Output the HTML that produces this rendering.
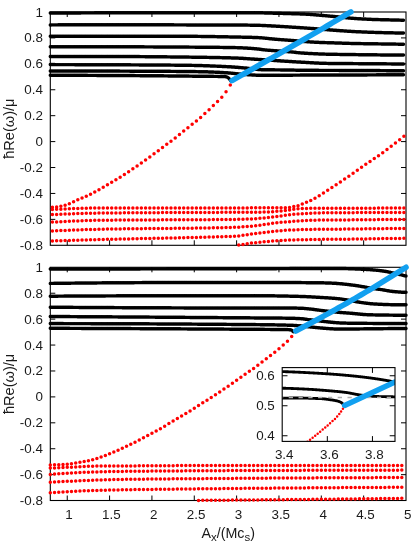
<!DOCTYPE html><html><head><meta charset="utf-8"><style>html,body{margin:0;padding:0;background:#fff}</style></head><body><svg width="415" height="545" viewBox="0 0 415 545" style="display:block;font-family:'Liberation Sans',sans-serif">
<rect width="415" height="545" fill="#fff"/>
<path d="M67.24 245.3v-5M67.24 12.0v5M109.58 245.3v-5M109.58 12.0v5M151.93 245.3v-5M151.93 12.0v5M194.27 245.3v-5M194.27 12.0v5M236.62 245.3v-5M236.62 12.0v5M278.96 245.3v-5M278.96 12.0v5M321.31 245.3v-5M321.31 12.0v5M363.65 245.3v-5M363.65 12.0v5M50.3 37.92h5M406.0 37.92h-5M50.3 63.84h5M406.0 63.84h-5M50.3 89.76h5M406.0 89.76h-5M50.3 115.68h5M406.0 115.68h-5M50.3 141.60h5M406.0 141.60h-5M50.3 167.52h5M406.0 167.52h-5M50.3 193.44h5M406.0 193.44h-5M50.3 219.36h5M406.0 219.36h-5" stroke="#000" stroke-width="1" fill="none"/>
<rect x="50.3" y="12.0" width="355.7" height="233.3" fill="none" stroke="#000" stroke-width="1.1"/>
<path d="M52.40 209.49h0M56.63 209.31h0M60.87 209.13h0M65.11 208.94h0M69.34 208.75h0M73.58 208.58h0M77.81 208.41h0M82.05 208.27h0M86.28 208.15h0M90.52 208.07h0M94.75 208.01h0M98.98 208.00h0M103.22 208.00h0M107.45 208.00h0M111.69 208.00h0M115.92 208.00h0M120.16 208.00h0M124.39 208.00h0M128.63 208.00h0M132.87 208.00h0M137.10 208.00h0M141.34 208.00h0M145.57 208.00h0M149.81 208.00h0M154.04 208.00h0M158.28 208.00h0M162.51 208.00h0M166.75 208.00h0M170.98 208.00h0M175.22 208.00h0M179.45 208.00h0M183.69 208.00h0M187.92 208.00h0M192.16 208.00h0M196.39 208.00h0M200.63 208.00h0M204.86 208.00h0M209.10 208.00h0M213.33 208.00h0M217.57 208.00h0M221.80 208.00h0M226.04 208.00h0M230.27 208.00h0M234.51 208.00h0M238.74 207.99h0M242.98 207.95h0M247.21 207.90h0M251.45 207.85h0M255.68 207.82h0M259.92 207.80h0M264.15 207.80h0M268.39 207.80h0M272.62 207.80h0M276.86 207.80h0M281.09 207.80h0M285.33 207.75h0M289.56 207.44h0M293.80 206.58h0M298.03 205.63h0M302.27 204.04h0M306.50 202.30h0M310.74 200.44h0M314.97 198.36h0M319.21 195.75h0M323.44 193.08h0M327.68 190.36h0M331.91 187.59h0M336.15 184.78h0M340.38 181.95h0M344.62 179.08h0M348.85 176.15h0M353.09 173.20h0M357.32 170.23h0M361.56 167.27h0M365.79 164.35h0M370.03 161.47h0M374.26 158.58h0M378.50 155.66h0M382.73 152.64h0M386.97 149.52h0M391.20 146.31h0M395.44 143.02h0M399.67 139.64h0M403.91 136.13h0" fill="none" stroke="#ff0000" stroke-width="3.5" stroke-linecap="round"/>
<path d="M52.40 214.59h0M56.63 214.42h0M60.87 214.25h0M65.11 214.08h0M69.34 213.91h0M73.58 213.74h0M77.81 213.59h0M82.05 213.45h0M86.28 213.33h0M90.52 213.23h0M94.75 213.14h0M98.98 213.09h0M103.22 213.04h0M107.45 213.00h0M111.69 212.96h0M115.92 212.92h0M120.16 212.89h0M124.39 212.85h0M128.63 212.82h0M132.87 212.79h0M137.10 212.76h0M141.34 212.73h0M145.57 212.71h0M149.81 212.69h0M154.04 212.66h0M158.28 212.64h0M162.51 212.62h0M166.75 212.60h0M170.98 212.58h0M175.22 212.56h0M179.45 212.55h0M183.69 212.53h0M187.92 212.51h0M192.16 212.49h0M196.39 212.48h0M200.63 212.46h0M204.86 212.44h0M209.10 212.42h0M213.33 212.41h0M217.57 212.39h0M221.80 212.37h0M226.04 212.35h0M230.27 212.33h0M234.51 212.30h0M238.74 212.28h0M242.98 212.25h0M247.21 212.22h0M251.45 212.20h0M255.68 212.20h0M259.92 212.20h0M264.15 212.12h0M268.39 211.92h0M272.62 211.65h0M276.86 211.37h0M281.09 210.99h0M285.33 210.53h0M289.56 209.96h0M293.80 209.31h0M298.03 208.81h0M302.27 208.50h0M306.50 208.38h0M310.74 208.34h0M314.97 208.31h0M319.21 208.30h0M323.44 208.30h0M327.68 208.30h0M331.91 208.30h0M336.15 208.30h0M340.38 208.29h0M344.62 208.28h0M348.85 208.27h0M353.09 208.25h0M357.32 208.23h0M361.56 208.21h0M365.79 208.18h0M370.03 208.16h0M374.26 208.14h0M378.50 208.12h0M382.73 208.11h0M386.97 208.10h0M391.20 208.10h0M395.44 208.10h0M399.67 208.10h0M403.91 208.10h0" fill="none" stroke="#ff0000" stroke-width="3.5" stroke-linecap="round"/>
<path d="M52.40 222.09h0M56.63 221.89h0M60.87 221.68h0M65.11 221.47h0M69.34 221.26h0M73.58 221.07h0M77.81 220.89h0M82.05 220.72h0M86.28 220.57h0M90.52 220.45h0M94.75 220.35h0M98.98 220.29h0M103.22 220.24h0M107.45 220.19h0M111.69 220.15h0M115.92 220.11h0M120.16 220.08h0M124.39 220.05h0M128.63 220.02h0M132.87 219.99h0M137.10 219.97h0M141.34 219.95h0M145.57 219.93h0M149.81 219.91h0M154.04 219.90h0M158.28 219.88h0M162.51 219.87h0M166.75 219.85h0M170.98 219.84h0M175.22 219.82h0M179.45 219.81h0M183.69 219.79h0M187.92 219.77h0M192.16 219.76h0M196.39 219.73h0M200.63 219.71h0M204.86 219.68h0M209.10 219.66h0M213.33 219.62h0M217.57 219.59h0M221.80 219.55h0M226.04 219.51h0M230.27 219.46h0M234.51 219.41h0M238.74 219.34h0M242.98 219.23h0M247.21 219.09h0M251.45 218.92h0M255.68 218.69h0M259.92 218.31h0M264.15 217.93h0M268.39 217.52h0M272.62 217.08h0M276.86 216.55h0M281.09 215.88h0M285.33 215.28h0M289.56 214.75h0M293.80 214.29h0M298.03 213.92h0M302.27 213.65h0M306.50 213.42h0M310.74 213.21h0M314.97 213.03h0M319.21 212.91h0M323.44 212.87h0M327.68 212.84h0M331.91 212.82h0M336.15 212.79h0M340.38 212.76h0M344.62 212.72h0M348.85 212.68h0M353.09 212.64h0M357.32 212.60h0M361.56 212.56h0M365.79 212.52h0M370.03 212.49h0M374.26 212.46h0M378.50 212.43h0M382.73 212.41h0M386.97 212.40h0M391.20 212.40h0M395.44 212.40h0M399.67 212.40h0M403.91 212.40h0" fill="none" stroke="#ff0000" stroke-width="3.5" stroke-linecap="round"/>
<path d="M52.40 230.89h0M56.63 230.72h0M60.87 230.55h0M65.11 230.38h0M69.34 230.22h0M73.58 230.05h0M77.81 229.90h0M82.05 229.75h0M86.28 229.61h0M90.52 229.49h0M94.75 229.38h0M98.98 229.28h0M103.22 229.19h0M107.45 229.11h0M111.69 229.04h0M115.92 228.97h0M120.16 228.90h0M124.39 228.85h0M128.63 228.79h0M132.87 228.74h0M137.10 228.70h0M141.34 228.65h0M145.57 228.61h0M149.81 228.57h0M154.04 228.53h0M158.28 228.50h0M162.51 228.46h0M166.75 228.42h0M170.98 228.38h0M175.22 228.34h0M179.45 228.30h0M183.69 228.25h0M187.92 228.21h0M192.16 228.15h0M196.39 228.10h0M200.63 228.04h0M204.86 227.97h0M209.10 227.90h0M213.33 227.82h0M217.57 227.74h0M221.80 227.64h0M226.04 227.54h0M230.27 227.43h0M234.51 227.31h0M238.74 227.14h0M242.98 226.87h0M247.21 226.53h0M251.45 226.14h0M255.68 225.73h0M259.92 225.21h0M264.15 224.59h0M268.39 223.88h0M272.62 223.21h0M276.86 222.69h0M281.09 222.27h0M285.33 221.93h0M289.56 221.63h0M293.80 221.27h0M298.03 220.93h0M302.27 220.64h0M306.50 220.44h0M310.74 220.30h0M314.97 220.18h0M319.21 220.11h0M323.44 220.07h0M327.68 220.04h0M331.91 220.02h0M336.15 219.99h0M340.38 219.96h0M344.62 219.92h0M348.85 219.88h0M353.09 219.84h0M357.32 219.80h0M361.56 219.76h0M365.79 219.72h0M370.03 219.67h0M374.26 219.63h0M378.50 219.59h0M382.73 219.56h0M386.97 219.52h0M391.20 219.49h0M395.44 219.46h0M399.67 219.44h0M403.91 219.41h0" fill="none" stroke="#ff0000" stroke-width="3.5" stroke-linecap="round"/>
<path d="M52.40 240.99h0M56.63 240.85h0M60.87 240.72h0M65.11 240.58h0M69.34 240.44h0M73.58 240.31h0M77.81 240.18h0M82.05 240.05h0M86.28 239.93h0M90.52 239.80h0M94.75 239.69h0M98.98 239.57h0M103.22 239.47h0M107.45 239.36h0M111.69 239.26h0M115.92 239.16h0M120.16 239.06h0M124.39 238.97h0M128.63 238.88h0M132.87 238.79h0M137.10 238.70h0M141.34 238.61h0M145.57 238.53h0M149.81 238.44h0M154.04 238.35h0M158.28 238.27h0M162.51 238.18h0M166.75 238.09h0M170.98 238.00h0M175.22 237.90h0M179.45 237.81h0M183.69 237.71h0M187.92 237.61h0M192.16 237.50h0M196.39 237.40h0M200.63 237.28h0M204.86 237.18h0M209.10 237.08h0M213.33 236.97h0M217.57 236.87h0M221.80 236.74h0M226.04 236.60h0M230.27 236.43h0M234.51 236.23h0M238.74 235.89h0M242.98 235.34h0M247.21 234.69h0M251.45 234.04h0M255.68 233.50h0M259.92 233.01h0M264.15 232.49h0M268.39 231.95h0M272.62 231.45h0M276.86 231.02h0M281.09 230.64h0M285.33 230.35h0M289.56 230.12h0M293.80 229.92h0M298.03 229.72h0M302.27 229.57h0M306.50 229.47h0M310.74 229.40h0M314.97 229.35h0M319.21 229.31h0M323.44 229.27h0M327.68 229.25h0M331.91 229.22h0M336.15 229.19h0M340.38 229.15h0M344.62 229.11h0M348.85 229.06h0M353.09 229.01h0M357.32 228.96h0M361.56 228.91h0M365.79 228.86h0M370.03 228.80h0M374.26 228.75h0M378.50 228.71h0M382.73 228.66h0M386.97 228.62h0M391.20 228.59h0M395.44 228.56h0M399.67 228.54h0M403.91 228.51h0" fill="none" stroke="#ff0000" stroke-width="3.5" stroke-linecap="round"/>
<path d="M238.74 245.05h0M242.98 244.47h0M247.21 243.77h0M251.45 243.08h0M255.68 242.68h0M259.92 242.31h0M264.15 241.87h0M268.39 241.40h0M272.62 240.98h0M276.86 240.69h0M281.09 240.46h0M285.33 240.27h0M289.56 240.12h0M293.80 239.98h0M298.03 239.87h0M302.27 239.76h0M306.50 239.67h0M310.74 239.57h0M314.97 239.48h0M319.21 239.41h0M323.44 239.37h0M327.68 239.35h0M331.91 239.32h0M336.15 239.29h0M340.38 239.25h0M344.62 239.20h0M348.85 239.14h0M353.09 239.08h0M357.32 239.02h0M361.56 238.95h0M365.79 238.88h0M370.03 238.81h0M374.26 238.74h0M378.50 238.67h0M382.73 238.60h0M386.97 238.54h0M391.20 238.48h0M395.44 238.43h0M399.67 238.38h0M403.91 238.33h0" fill="none" stroke="#ff0000" stroke-width="3.5" stroke-linecap="round"/>
<path d="M52.40 207.20h0M56.63 206.91h0M60.87 206.28h0M65.11 205.36h0M69.34 203.71h0M73.58 201.71h0M77.81 199.82h0M82.05 198.04h0M86.28 196.20h0M90.52 194.23h0M94.75 192.06h0M98.98 189.68h0M103.22 187.20h0M107.45 184.74h0M111.69 182.29h0M115.92 179.78h0M120.16 177.19h0M124.39 174.48h0M128.63 171.68h0M132.87 168.82h0M137.10 165.93h0M141.34 162.99h0M145.57 160.00h0M149.81 156.96h0M154.04 153.86h0M158.28 150.71h0M162.51 147.53h0M166.75 144.37h0M170.98 141.19h0M175.22 137.92h0M179.45 134.52h0M183.69 131.08h0M187.92 127.69h0M192.16 124.37h0M196.39 120.99h0M200.63 117.38h0M204.86 113.57h0M209.10 109.64h0M213.33 105.59h0M217.57 101.44h0M221.80 97.26h0M226.04 91.73h0M230.27 84.93h0" fill="none" stroke="#ff0000" stroke-width="3.5" stroke-linecap="round"/>
<path d="M50.30 13.00h0M51.15 13.00h0M51.99 12.99h0M52.84 12.99h0M53.69 12.99h0M54.53 12.98h0M55.38 12.98h0M56.23 12.98h0M57.08 12.98h0M57.92 12.97h0M58.77 12.97h0M59.62 12.97h0M60.46 12.96h0M61.31 12.96h0M62.16 12.96h0M63.00 12.95h0M63.85 12.95h0M64.70 12.95h0M65.54 12.95h0M66.39 12.94h0M67.24 12.94h0M68.08 12.94h0M68.93 12.93h0M69.78 12.93h0M70.63 12.93h0M71.47 12.93h0M72.32 12.92h0M73.17 12.92h0M74.01 12.92h0M74.86 12.91h0M75.71 12.91h0M76.55 12.91h0M77.40 12.91h0M78.25 12.90h0M79.09 12.90h0M79.94 12.90h0M80.79 12.90h0M81.64 12.89h0M82.48 12.89h0M83.33 12.89h0M84.18 12.88h0M85.02 12.88h0M85.87 12.88h0M86.72 12.88h0M87.56 12.87h0M88.41 12.87h0M89.26 12.87h0M90.10 12.87h0M90.95 12.87h0M91.80 12.86h0M92.65 12.86h0M93.49 12.86h0M94.34 12.86h0M95.19 12.85h0M96.03 12.85h0M96.88 12.85h0M97.73 12.85h0M98.57 12.84h0M99.42 12.84h0M100.27 12.84h0M101.11 12.84h0M101.96 12.84h0M102.81 12.83h0M103.66 12.83h0M104.50 12.83h0M105.35 12.83h0M106.20 12.83h0M107.04 12.82h0M107.89 12.82h0M108.74 12.82h0M109.58 12.82h0M110.43 12.82h0M111.28 12.81h0M112.12 12.81h0M112.97 12.81h0M113.82 12.81h0M114.66 12.81h0M115.51 12.80h0M116.36 12.80h0M117.21 12.80h0M118.05 12.80h0M118.90 12.80h0M119.75 12.80h0M120.59 12.79h0M121.44 12.79h0M122.29 12.79h0M123.13 12.79h0M123.98 12.79h0M124.83 12.79h0M125.67 12.78h0M126.52 12.78h0M127.37 12.78h0M128.22 12.78h0M129.06 12.78h0M129.91 12.78h0M130.76 12.77h0M131.60 12.77h0M132.45 12.77h0M133.30 12.77h0M134.14 12.77h0M134.99 12.77h0M135.84 12.76h0M136.68 12.76h0M137.53 12.76h0M138.38 12.76h0M139.23 12.76h0M140.07 12.76h0M140.92 12.75h0M141.77 12.75h0M142.61 12.75h0M143.46 12.75h0M144.31 12.75h0M145.15 12.75h0M146.00 12.75h0M146.85 12.74h0M147.69 12.74h0M148.54 12.74h0M149.39 12.74h0M150.23 12.74h0M151.08 12.74h0M151.93 12.73h0M152.78 12.73h0M153.62 12.73h0M154.47 12.73h0M155.32 12.73h0M156.16 12.73h0M157.01 12.73h0M157.86 12.73h0M158.70 12.72h0M159.55 12.72h0M160.40 12.72h0M161.24 12.72h0M162.09 12.72h0M162.94 12.72h0M163.79 12.72h0M164.63 12.72h0M165.48 12.71h0M166.33 12.71h0M167.17 12.71h0M168.02 12.71h0M168.87 12.71h0M169.71 12.71h0M170.56 12.71h0M171.41 12.71h0M172.25 12.71h0M173.10 12.71h0M173.95 12.71h0M174.80 12.71h0M175.64 12.70h0M176.49 12.70h0M177.34 12.70h0M178.18 12.70h0M179.03 12.70h0M179.88 12.70h0M180.72 12.70h0M181.57 12.70h0M182.42 12.70h0M183.26 12.70h0M184.11 12.70h0M184.96 12.70h0M185.80 12.70h0M186.65 12.70h0M187.50 12.70h0M188.35 12.70h0M189.19 12.70h0M190.04 12.70h0M190.89 12.70h0M191.73 12.70h0M192.58 12.70h0M193.43 12.70h0M194.27 12.70h0M195.12 12.70h0M195.97 12.70h0M196.81 12.70h0M197.66 12.70h0M198.51 12.70h0M199.36 12.70h0M200.20 12.70h0M201.05 12.70h0M201.90 12.70h0M202.74 12.70h0M203.59 12.70h0M204.44 12.70h0M205.28 12.70h0M206.13 12.71h0M206.98 12.71h0M207.82 12.71h0M208.67 12.71h0M209.52 12.71h0M210.37 12.71h0M211.21 12.71h0M212.06 12.71h0M212.91 12.71h0M213.75 12.71h0M214.60 12.71h0M215.45 12.71h0M216.29 12.71h0M217.14 12.71h0M217.99 12.72h0M218.83 12.72h0M219.68 12.72h0M220.53 12.72h0M221.37 12.72h0M222.22 12.72h0M223.07 12.72h0M223.92 12.72h0M224.76 12.72h0M225.61 12.72h0M226.46 12.73h0M227.30 12.73h0M228.15 12.73h0M229.00 12.73h0M229.84 12.73h0M230.69 12.73h0M231.54 12.73h0M232.38 12.74h0M233.23 12.74h0M234.08 12.74h0M234.93 12.74h0M235.77 12.74h0M236.62 12.74h0M237.47 12.75h0M238.31 12.75h0M239.16 12.75h0M240.01 12.75h0M240.85 12.75h0M241.70 12.75h0M242.55 12.76h0M243.39 12.76h0M244.24 12.76h0M245.09 12.76h0M245.94 12.76h0M246.78 12.77h0M247.63 12.77h0M248.48 12.77h0M249.32 12.77h0M250.17 12.78h0M251.02 12.78h0M251.86 12.78h0M252.71 12.78h0M253.56 12.79h0M254.40 12.79h0M255.25 12.79h0M256.10 12.79h0M256.94 12.80h0M257.79 12.80h0M258.64 12.80h0M259.49 12.81h0M260.33 12.82h0M261.18 12.83h0M262.03 12.85h0M262.87 12.86h0M263.72 12.88h0M264.57 12.90h0M265.41 12.92h0M266.26 12.95h0M267.11 12.97h0M267.95 13.00h0M268.80 13.02h0M269.65 13.05h0M270.50 13.07h0M271.34 13.10h0M272.19 13.12h0M273.04 13.15h0M273.88 13.17h0M274.73 13.19h0M275.58 13.21h0M276.42 13.24h0M277.27 13.26h0M278.12 13.28h0M278.96 13.30h0M279.81 13.32h0M280.66 13.34h0M281.51 13.37h0M282.35 13.39h0M283.20 13.41h0M284.05 13.43h0M284.89 13.46h0M285.74 13.48h0M286.59 13.50h0M287.43 13.53h0M288.28 13.55h0M289.13 13.57h0M289.97 13.60h0M290.82 13.62h0M291.67 13.65h0M292.51 13.67h0M293.36 13.70h0M294.21 13.72h0M295.06 13.75h0M295.90 13.77h0M296.75 13.80h0M297.60 13.82h0M298.44 13.85h0M299.29 13.88h0M300.14 13.91h0M300.98 13.94h0M301.83 13.97h0M302.68 14.00h0M303.52 14.03h0M304.37 14.07h0M305.22 14.11h0M306.07 14.15h0M306.91 14.20h0M307.76 14.25h0M308.61 14.31h0M309.45 14.37h0M310.30 14.43h0M311.15 14.50h0M311.99 14.56h0M312.84 14.63h0M313.69 14.70h0M314.53 14.76h0M315.38 14.83h0M316.23 14.90h0M317.07 14.97h0M317.92 15.04h0M318.77 15.11h0M319.62 15.18h0M320.46 15.25h0M321.31 15.33h0M322.16 15.40h0M323.00 15.48h0M323.85 15.56h0M324.70 15.64h0M325.54 15.71h0M326.39 15.79h0M327.24 15.87h0M328.08 15.95h0M328.93 16.03h0M329.78 16.11h0M330.63 16.19h0M331.47 16.27h0M332.32 16.35h0M333.17 16.43h0M334.01 16.51h0M334.86 16.59h0M335.71 16.67h0M336.55 16.75h0M337.40 16.83h0M338.25 16.92h0M339.09 17.00h0M339.94 17.09h0M340.79 17.18h0M341.64 17.27h0M342.48 17.35h0M343.33 17.44h0M344.18 17.53h0M345.02 17.62h0M345.87 17.71h0M346.72 17.79h0M347.56 17.88h0M348.41 17.96h0M349.26 18.04h0M350.10 18.11h0M350.95 18.19h0M351.80 18.26h0M352.64 18.33h0M353.49 18.39h0M354.34 18.46h0M355.19 18.51h0M356.03 18.57h0M356.88 18.62h0M357.73 18.67h0M358.57 18.72h0M359.42 18.78h0M360.27 18.82h0M361.11 18.87h0M361.96 18.92h0M362.81 18.97h0M363.65 19.01h0M364.50 19.06h0M365.35 19.10h0M366.20 19.14h0M367.04 19.18h0M367.89 19.22h0M368.74 19.26h0M369.58 19.29h0M370.43 19.33h0M371.28 19.36h0M372.12 19.40h0M372.97 19.43h0M373.82 19.46h0M374.66 19.49h0M375.51 19.52h0M376.36 19.54h0M377.21 19.57h0M378.05 19.59h0M378.90 19.62h0M379.75 19.64h0M380.59 19.66h0M381.44 19.68h0M382.29 19.70h0M383.13 19.72h0M383.98 19.74h0M384.83 19.76h0M385.67 19.78h0M386.52 19.80h0M387.37 19.82h0M388.21 19.84h0M389.06 19.86h0M389.91 19.88h0M390.76 19.90h0M391.60 19.92h0M392.45 19.94h0M393.30 19.96h0M394.14 19.98h0M394.99 20.00h0M395.84 20.02h0M396.68 20.04h0M397.53 20.07h0M398.38 20.09h0M399.22 20.11h0M400.07 20.14h0M400.92 20.16h0M401.77 20.18h0M402.61 20.21h0M403.46 20.23h0" fill="none" stroke="#000" stroke-width="3.46" stroke-linecap="round"/>
<path d="M50.30 24.90h0M51.15 24.90h0M51.99 24.89h0M52.84 24.89h0M53.69 24.88h0M54.53 24.88h0M55.38 24.87h0M56.23 24.87h0M57.08 24.86h0M57.92 24.86h0M58.77 24.85h0M59.62 24.85h0M60.46 24.85h0M61.31 24.84h0M62.16 24.84h0M63.00 24.83h0M63.85 24.83h0M64.70 24.82h0M65.54 24.82h0M66.39 24.82h0M67.24 24.81h0M68.08 24.81h0M68.93 24.81h0M69.78 24.80h0M70.63 24.80h0M71.47 24.80h0M72.32 24.79h0M73.17 24.79h0M74.01 24.79h0M74.86 24.78h0M75.71 24.78h0M76.55 24.78h0M77.40 24.77h0M78.25 24.77h0M79.09 24.77h0M79.94 24.76h0M80.79 24.76h0M81.64 24.76h0M82.48 24.76h0M83.33 24.75h0M84.18 24.75h0M85.02 24.75h0M85.87 24.75h0M86.72 24.74h0M87.56 24.74h0M88.41 24.74h0M89.26 24.74h0M90.10 24.73h0M90.95 24.73h0M91.80 24.73h0M92.65 24.73h0M93.49 24.73h0M94.34 24.72h0M95.19 24.72h0M96.03 24.72h0M96.88 24.72h0M97.73 24.72h0M98.57 24.72h0M99.42 24.72h0M100.27 24.71h0M101.11 24.71h0M101.96 24.71h0M102.81 24.71h0M103.66 24.71h0M104.50 24.71h0M105.35 24.71h0M106.20 24.71h0M107.04 24.71h0M107.89 24.70h0M108.74 24.70h0M109.58 24.70h0M110.43 24.70h0M111.28 24.70h0M112.12 24.70h0M112.97 24.70h0M113.82 24.70h0M114.66 24.70h0M115.51 24.70h0M116.36 24.70h0M117.21 24.70h0M118.05 24.70h0M118.90 24.70h0M119.75 24.70h0M120.59 24.70h0M121.44 24.70h0M122.29 24.70h0M123.13 24.70h0M123.98 24.70h0M124.83 24.70h0M125.67 24.70h0M126.52 24.71h0M127.37 24.71h0M128.22 24.71h0M129.06 24.71h0M129.91 24.71h0M130.76 24.71h0M131.60 24.71h0M132.45 24.72h0M133.30 24.72h0M134.14 24.72h0M134.99 24.72h0M135.84 24.72h0M136.68 24.73h0M137.53 24.73h0M138.38 24.73h0M139.23 24.73h0M140.07 24.74h0M140.92 24.74h0M141.77 24.74h0M142.61 24.74h0M143.46 24.75h0M144.31 24.75h0M145.15 24.75h0M146.00 24.75h0M146.85 24.76h0M147.69 24.76h0M148.54 24.76h0M149.39 24.77h0M150.23 24.77h0M151.08 24.77h0M151.93 24.77h0M152.78 24.78h0M153.62 24.78h0M154.47 24.78h0M155.32 24.79h0M156.16 24.79h0M157.01 24.79h0M157.86 24.80h0M158.70 24.80h0M159.55 24.80h0M160.40 24.81h0M161.24 24.81h0M162.09 24.81h0M162.94 24.82h0M163.79 24.82h0M164.63 24.82h0M165.48 24.83h0M166.33 24.83h0M167.17 24.83h0M168.02 24.84h0M168.87 24.84h0M169.71 24.84h0M170.56 24.85h0M171.41 24.85h0M172.25 24.85h0M173.10 24.85h0M173.95 24.86h0M174.80 24.86h0M175.64 24.86h0M176.49 24.87h0M177.34 24.87h0M178.18 24.87h0M179.03 24.87h0M179.88 24.88h0M180.72 24.88h0M181.57 24.88h0M182.42 24.88h0M183.26 24.89h0M184.11 24.89h0M184.96 24.89h0M185.80 24.89h0M186.65 24.90h0M187.50 24.90h0M188.35 24.90h0M189.19 24.90h0M190.04 24.90h0M190.89 24.91h0M191.73 24.91h0M192.58 24.91h0M193.43 24.91h0M194.27 24.91h0M195.12 24.91h0M195.97 24.92h0M196.81 24.92h0M197.66 24.92h0M198.51 24.92h0M199.36 24.92h0M200.20 24.92h0M201.05 24.92h0M201.90 24.93h0M202.74 24.93h0M203.59 24.93h0M204.44 24.93h0M205.28 24.93h0M206.13 24.93h0M206.98 24.93h0M207.82 24.94h0M208.67 24.94h0M209.52 24.94h0M210.37 24.94h0M211.21 24.94h0M212.06 24.94h0M212.91 24.94h0M213.75 24.94h0M214.60 24.95h0M215.45 24.95h0M216.29 24.95h0M217.14 24.95h0M217.99 24.95h0M218.83 24.95h0M219.68 24.96h0M220.53 24.96h0M221.37 24.96h0M222.22 24.96h0M223.07 24.96h0M223.92 24.96h0M224.76 24.97h0M225.61 24.97h0M226.46 24.97h0M227.30 24.97h0M228.15 24.98h0M229.00 24.98h0M229.84 24.98h0M230.69 24.98h0M231.54 24.99h0M232.38 24.99h0M233.23 24.99h0M234.08 25.00h0M234.93 25.00h0M235.77 25.00h0M236.62 25.01h0M237.47 25.01h0M238.31 25.02h0M239.16 25.02h0M240.01 25.03h0M240.85 25.04h0M241.70 25.05h0M242.55 25.05h0M243.39 25.06h0M244.24 25.07h0M245.09 25.08h0M245.94 25.09h0M246.78 25.10h0M247.63 25.12h0M248.48 25.13h0M249.32 25.14h0M250.17 25.15h0M251.02 25.17h0M251.86 25.18h0M252.71 25.20h0M253.56 25.21h0M254.40 25.23h0M255.25 25.24h0M256.10 25.26h0M256.94 25.28h0M257.79 25.30h0M258.64 25.31h0M259.49 25.34h0M260.33 25.36h0M261.18 25.39h0M262.03 25.42h0M262.87 25.46h0M263.72 25.50h0M264.57 25.54h0M265.41 25.58h0M266.26 25.62h0M267.11 25.66h0M267.95 25.71h0M268.80 25.76h0M269.65 25.80h0M270.50 25.85h0M271.34 25.90h0M272.19 25.95h0M273.04 25.99h0M273.88 26.04h0M274.73 26.09h0M275.58 26.13h0M276.42 26.18h0M277.27 26.22h0M278.12 26.27h0M278.96 26.32h0M279.81 26.37h0M280.66 26.42h0M281.51 26.47h0M282.35 26.52h0M283.20 26.57h0M284.05 26.63h0M284.89 26.68h0M285.74 26.73h0M286.59 26.78h0M287.43 26.84h0M288.28 26.89h0M289.13 26.94h0M289.97 27.00h0M290.82 27.05h0M291.67 27.11h0M292.51 27.16h0M293.36 27.21h0M294.21 27.27h0M295.06 27.32h0M295.90 27.38h0M296.75 27.43h0M297.60 27.49h0M298.44 27.55h0M299.29 27.60h0M300.14 27.66h0M300.98 27.72h0M301.83 27.77h0M302.68 27.83h0M303.52 27.89h0M304.37 27.95h0M305.22 28.00h0M306.07 28.06h0M306.91 28.12h0M307.76 28.18h0M308.61 28.24h0M309.45 28.30h0M310.30 28.36h0M311.15 28.42h0M311.99 28.48h0M312.84 28.54h0M313.69 28.60h0M314.53 28.67h0M315.38 28.73h0M316.23 28.79h0M317.07 28.86h0M317.92 28.92h0M318.77 28.99h0M319.62 29.06h0M320.46 29.13h0M321.31 29.20h0M322.16 29.27h0M323.00 29.34h0M323.85 29.41h0M324.70 29.48h0M325.54 29.55h0M326.39 29.62h0M327.24 29.69h0M328.08 29.76h0M328.93 29.83h0M329.78 29.90h0M330.63 29.97h0M331.47 30.03h0M332.32 30.10h0M333.17 30.16h0M334.01 30.23h0M334.86 30.29h0M335.71 30.35h0M336.55 30.41h0M337.40 30.47h0M338.25 30.53h0M339.09 30.59h0M339.94 30.65h0M340.79 30.71h0M341.64 30.77h0M342.48 30.83h0M343.33 30.89h0M344.18 30.95h0M345.02 31.01h0M345.87 31.06h0M346.72 31.12h0M347.56 31.17h0M348.41 31.23h0M349.26 31.28h0M350.10 31.33h0M350.95 31.38h0M351.80 31.43h0M352.64 31.48h0M353.49 31.52h0M354.34 31.57h0M355.19 31.61h0M356.03 31.65h0M356.88 31.69h0M357.73 31.73h0M358.57 31.77h0M359.42 31.81h0M360.27 31.85h0M361.11 31.88h0M361.96 31.92h0M362.81 31.96h0M363.65 31.99h0M364.50 32.03h0M365.35 32.06h0M366.20 32.09h0M367.04 32.13h0M367.89 32.16h0M368.74 32.19h0M369.58 32.22h0M370.43 32.25h0M371.28 32.28h0M372.12 32.31h0M372.97 32.34h0M373.82 32.36h0M374.66 32.39h0M375.51 32.42h0M376.36 32.44h0M377.21 32.47h0M378.05 32.49h0M378.90 32.51h0M379.75 32.54h0M380.59 32.56h0M381.44 32.58h0M382.29 32.61h0M383.13 32.63h0M383.98 32.65h0M384.83 32.67h0M385.67 32.69h0M386.52 32.71h0M387.37 32.73h0M388.21 32.75h0M389.06 32.77h0M389.91 32.79h0M390.76 32.81h0M391.60 32.83h0M392.45 32.85h0M393.30 32.86h0M394.14 32.88h0M394.99 32.90h0M395.84 32.92h0M396.68 32.93h0M397.53 32.95h0M398.38 32.97h0M399.22 32.98h0M400.07 33.00h0M400.92 33.01h0M401.77 33.03h0M402.61 33.04h0M403.46 33.06h0" fill="none" stroke="#000" stroke-width="3.46" stroke-linecap="round"/>
<path d="M50.30 36.30h0M51.15 36.30h0M51.99 36.30h0M52.84 36.29h0M53.69 36.29h0M54.53 36.29h0M55.38 36.29h0M56.23 36.28h0M57.08 36.28h0M57.92 36.28h0M58.77 36.28h0M59.62 36.27h0M60.46 36.27h0M61.31 36.27h0M62.16 36.27h0M63.00 36.27h0M63.85 36.26h0M64.70 36.26h0M65.54 36.26h0M66.39 36.26h0M67.24 36.26h0M68.08 36.25h0M68.93 36.25h0M69.78 36.25h0M70.63 36.25h0M71.47 36.25h0M72.32 36.25h0M73.17 36.24h0M74.01 36.24h0M74.86 36.24h0M75.71 36.24h0M76.55 36.24h0M77.40 36.24h0M78.25 36.23h0M79.09 36.23h0M79.94 36.23h0M80.79 36.23h0M81.64 36.23h0M82.48 36.23h0M83.33 36.23h0M84.18 36.23h0M85.02 36.22h0M85.87 36.22h0M86.72 36.22h0M87.56 36.22h0M88.41 36.22h0M89.26 36.22h0M90.10 36.22h0M90.95 36.22h0M91.80 36.22h0M92.65 36.21h0M93.49 36.21h0M94.34 36.21h0M95.19 36.21h0M96.03 36.21h0M96.88 36.21h0M97.73 36.21h0M98.57 36.21h0M99.42 36.21h0M100.27 36.21h0M101.11 36.21h0M101.96 36.21h0M102.81 36.21h0M103.66 36.20h0M104.50 36.20h0M105.35 36.20h0M106.20 36.20h0M107.04 36.20h0M107.89 36.20h0M108.74 36.20h0M109.58 36.20h0M110.43 36.20h0M111.28 36.20h0M112.12 36.20h0M112.97 36.20h0M113.82 36.20h0M114.66 36.20h0M115.51 36.20h0M116.36 36.20h0M117.21 36.20h0M118.05 36.20h0M118.90 36.20h0M119.75 36.20h0M120.59 36.20h0M121.44 36.20h0M122.29 36.20h0M123.13 36.20h0M123.98 36.20h0M124.83 36.20h0M125.67 36.20h0M126.52 36.20h0M127.37 36.20h0M128.22 36.20h0M129.06 36.20h0M129.91 36.20h0M130.76 36.20h0M131.60 36.20h0M132.45 36.20h0M133.30 36.21h0M134.14 36.21h0M134.99 36.21h0M135.84 36.21h0M136.68 36.21h0M137.53 36.21h0M138.38 36.21h0M139.23 36.21h0M140.07 36.21h0M140.92 36.21h0M141.77 36.21h0M142.61 36.21h0M143.46 36.21h0M144.31 36.21h0M145.15 36.22h0M146.00 36.22h0M146.85 36.22h0M147.69 36.22h0M148.54 36.22h0M149.39 36.22h0M150.23 36.22h0M151.08 36.22h0M151.93 36.22h0M152.78 36.23h0M153.62 36.23h0M154.47 36.23h0M155.32 36.23h0M156.16 36.23h0M157.01 36.23h0M157.86 36.23h0M158.70 36.23h0M159.55 36.24h0M160.40 36.24h0M161.24 36.24h0M162.09 36.24h0M162.94 36.24h0M163.79 36.24h0M164.63 36.25h0M165.48 36.25h0M166.33 36.25h0M167.17 36.25h0M168.02 36.25h0M168.87 36.25h0M169.71 36.26h0M170.56 36.26h0M171.41 36.26h0M172.25 36.26h0M173.10 36.26h0M173.95 36.26h0M174.80 36.27h0M175.64 36.27h0M176.49 36.27h0M177.34 36.27h0M178.18 36.27h0M179.03 36.28h0M179.88 36.28h0M180.72 36.28h0M181.57 36.28h0M182.42 36.29h0M183.26 36.29h0M184.11 36.29h0M184.96 36.29h0M185.80 36.29h0M186.65 36.30h0M187.50 36.30h0M188.35 36.30h0M189.19 36.30h0M190.04 36.31h0M190.89 36.31h0M191.73 36.32h0M192.58 36.32h0M193.43 36.33h0M194.27 36.33h0M195.12 36.34h0M195.97 36.35h0M196.81 36.35h0M197.66 36.36h0M198.51 36.37h0M199.36 36.38h0M200.20 36.39h0M201.05 36.40h0M201.90 36.41h0M202.74 36.42h0M203.59 36.43h0M204.44 36.44h0M205.28 36.45h0M206.13 36.47h0M206.98 36.48h0M207.82 36.49h0M208.67 36.51h0M209.52 36.52h0M210.37 36.53h0M211.21 36.55h0M212.06 36.56h0M212.91 36.58h0M213.75 36.59h0M214.60 36.60h0M215.45 36.62h0M216.29 36.64h0M217.14 36.65h0M217.99 36.67h0M218.83 36.68h0M219.68 36.70h0M220.53 36.71h0M221.37 36.73h0M222.22 36.75h0M223.07 36.76h0M223.92 36.78h0M224.76 36.80h0M225.61 36.81h0M226.46 36.83h0M227.30 36.85h0M228.15 36.86h0M229.00 36.88h0M229.84 36.90h0M230.69 36.91h0M231.54 36.93h0M232.38 36.95h0M233.23 36.97h0M234.08 36.98h0M234.93 37.00h0M235.77 37.02h0M236.62 37.03h0M237.47 37.05h0M238.31 37.06h0M239.16 37.08h0M240.01 37.10h0M240.85 37.11h0M241.70 37.13h0M242.55 37.15h0M243.39 37.17h0M244.24 37.18h0M245.09 37.20h0M245.94 37.22h0M246.78 37.24h0M247.63 37.26h0M248.48 37.28h0M249.32 37.31h0M250.17 37.33h0M251.02 37.35h0M251.86 37.38h0M252.71 37.41h0M253.56 37.43h0M254.40 37.46h0M255.25 37.49h0M256.10 37.52h0M256.94 37.56h0M257.79 37.59h0M258.64 37.63h0M259.49 37.68h0M260.33 37.73h0M261.18 37.80h0M262.03 37.87h0M262.87 37.94h0M263.72 38.02h0M264.57 38.11h0M265.41 38.20h0M266.26 38.29h0M267.11 38.38h0M267.95 38.48h0M268.80 38.57h0M269.65 38.67h0M270.50 38.76h0M271.34 38.85h0M272.19 38.94h0M273.04 39.02h0M273.88 39.10h0M274.73 39.18h0M275.58 39.25h0M276.42 39.31h0M277.27 39.38h0M278.12 39.44h0M278.96 39.51h0M279.81 39.57h0M280.66 39.63h0M281.51 39.69h0M282.35 39.75h0M283.20 39.81h0M284.05 39.87h0M284.89 39.92h0M285.74 39.98h0M286.59 40.05h0M287.43 40.11h0M288.28 40.17h0M289.13 40.23h0M289.97 40.30h0M290.82 40.37h0M291.67 40.43h0M292.51 40.50h0M293.36 40.58h0M294.21 40.65h0M295.06 40.72h0M295.90 40.80h0M296.75 40.87h0M297.60 40.94h0M298.44 41.01h0M299.29 41.08h0M300.14 41.15h0M300.98 41.22h0M301.83 41.29h0M302.68 41.35h0M303.52 41.42h0M304.37 41.48h0M305.22 41.55h0M306.07 41.61h0M306.91 41.68h0M307.76 41.74h0M308.61 41.80h0M309.45 41.86h0M310.30 41.92h0M311.15 41.98h0M311.99 42.03h0M312.84 42.08h0M313.69 42.13h0M314.53 42.18h0M315.38 42.22h0M316.23 42.26h0M317.07 42.29h0M317.92 42.33h0M318.77 42.36h0M319.62 42.40h0M320.46 42.43h0M321.31 42.46h0M322.16 42.49h0M323.00 42.52h0M323.85 42.55h0M324.70 42.58h0M325.54 42.61h0M326.39 42.63h0M327.24 42.66h0M328.08 42.69h0M328.93 42.71h0M329.78 42.74h0M330.63 42.76h0M331.47 42.79h0M332.32 42.82h0M333.17 42.84h0M334.01 42.87h0M334.86 42.90h0M335.71 42.92h0M336.55 42.95h0M337.40 42.98h0M338.25 43.01h0M339.09 43.03h0M339.94 43.06h0M340.79 43.09h0M341.64 43.12h0M342.48 43.15h0M343.33 43.18h0M344.18 43.20h0M345.02 43.23h0M345.87 43.26h0M346.72 43.28h0M347.56 43.31h0M348.41 43.33h0M349.26 43.36h0M350.10 43.38h0M350.95 43.40h0M351.80 43.43h0M352.64 43.45h0M353.49 43.47h0M354.34 43.49h0M355.19 43.50h0M356.03 43.52h0M356.88 43.54h0M357.73 43.55h0M358.57 43.57h0M359.42 43.59h0M360.27 43.60h0M361.11 43.62h0M361.96 43.63h0M362.81 43.64h0M363.65 43.66h0M364.50 43.67h0M365.35 43.68h0M366.20 43.70h0M367.04 43.71h0M367.89 43.72h0M368.74 43.73h0M369.58 43.75h0M370.43 43.76h0M371.28 43.77h0M372.12 43.78h0M372.97 43.79h0M373.82 43.80h0M374.66 43.82h0M375.51 43.83h0M376.36 43.84h0M377.21 43.85h0M378.05 43.86h0M378.90 43.87h0M379.75 43.88h0M380.59 43.89h0M381.44 43.90h0M382.29 43.91h0M383.13 43.93h0M383.98 43.94h0M384.83 43.95h0M385.67 43.96h0M386.52 43.97h0M387.37 43.98h0M388.21 44.00h0M389.06 44.01h0M389.91 44.02h0M390.76 44.03h0M391.60 44.05h0M392.45 44.06h0M393.30 44.07h0M394.14 44.09h0M394.99 44.10h0M395.84 44.11h0M396.68 44.13h0M397.53 44.14h0M398.38 44.16h0M399.22 44.17h0M400.07 44.19h0M400.92 44.20h0M401.77 44.22h0M402.61 44.24h0M403.46 44.25h0" fill="none" stroke="#000" stroke-width="3.46" stroke-linecap="round"/>
<path d="M50.30 46.80h0M51.15 46.80h0M51.99 46.80h0M52.84 46.80h0M53.69 46.80h0M54.53 46.80h0M55.38 46.80h0M56.23 46.80h0M57.08 46.80h0M57.92 46.80h0M58.77 46.80h0M59.62 46.80h0M60.46 46.80h0M61.31 46.80h0M62.16 46.80h0M63.00 46.80h0M63.85 46.80h0M64.70 46.80h0M65.54 46.80h0M66.39 46.80h0M67.24 46.80h0M68.08 46.80h0M68.93 46.80h0M69.78 46.80h0M70.63 46.80h0M71.47 46.80h0M72.32 46.80h0M73.17 46.80h0M74.01 46.80h0M74.86 46.80h0M75.71 46.80h0M76.55 46.80h0M77.40 46.80h0M78.25 46.80h0M79.09 46.80h0M79.94 46.80h0M80.79 46.80h0M81.64 46.80h0M82.48 46.80h0M83.33 46.80h0M84.18 46.80h0M85.02 46.80h0M85.87 46.80h0M86.72 46.80h0M87.56 46.80h0M88.41 46.80h0M89.26 46.80h0M90.10 46.80h0M90.95 46.80h0M91.80 46.80h0M92.65 46.80h0M93.49 46.80h0M94.34 46.80h0M95.19 46.80h0M96.03 46.80h0M96.88 46.80h0M97.73 46.80h0M98.57 46.80h0M99.42 46.80h0M100.27 46.80h0M101.11 46.80h0M101.96 46.80h0M102.81 46.80h0M103.66 46.80h0M104.50 46.80h0M105.35 46.80h0M106.20 46.80h0M107.04 46.80h0M107.89 46.80h0M108.74 46.80h0M109.58 46.80h0M110.43 46.80h0M111.28 46.80h0M112.12 46.80h0M112.97 46.80h0M113.82 46.80h0M114.66 46.80h0M115.51 46.80h0M116.36 46.80h0M117.21 46.80h0M118.05 46.80h0M118.90 46.80h0M119.75 46.80h0M120.59 46.80h0M121.44 46.80h0M122.29 46.80h0M123.13 46.80h0M123.98 46.80h0M124.83 46.80h0M125.67 46.81h0M126.52 46.81h0M127.37 46.81h0M128.22 46.81h0M129.06 46.81h0M129.91 46.81h0M130.76 46.81h0M131.60 46.82h0M132.45 46.82h0M133.30 46.82h0M134.14 46.82h0M134.99 46.82h0M135.84 46.83h0M136.68 46.83h0M137.53 46.83h0M138.38 46.84h0M139.23 46.84h0M140.07 46.84h0M140.92 46.84h0M141.77 46.85h0M142.61 46.85h0M143.46 46.85h0M144.31 46.86h0M145.15 46.86h0M146.00 46.86h0M146.85 46.87h0M147.69 46.87h0M148.54 46.87h0M149.39 46.88h0M150.23 46.88h0M151.08 46.89h0M151.93 46.89h0M152.78 46.89h0M153.62 46.90h0M154.47 46.90h0M155.32 46.91h0M156.16 46.91h0M157.01 46.92h0M157.86 46.92h0M158.70 46.92h0M159.55 46.93h0M160.40 46.93h0M161.24 46.94h0M162.09 46.94h0M162.94 46.95h0M163.79 46.95h0M164.63 46.96h0M165.48 46.96h0M166.33 46.97h0M167.17 46.97h0M168.02 46.98h0M168.87 46.98h0M169.71 46.99h0M170.56 46.99h0M171.41 47.00h0M172.25 47.00h0M173.10 47.01h0M173.95 47.01h0M174.80 47.02h0M175.64 47.02h0M176.49 47.03h0M177.34 47.03h0M178.18 47.04h0M179.03 47.04h0M179.88 47.05h0M180.72 47.05h0M181.57 47.06h0M182.42 47.06h0M183.26 47.07h0M184.11 47.08h0M184.96 47.08h0M185.80 47.09h0M186.65 47.09h0M187.50 47.10h0M188.35 47.10h0M189.19 47.11h0M190.04 47.11h0M190.89 47.12h0M191.73 47.12h0M192.58 47.13h0M193.43 47.13h0M194.27 47.14h0M195.12 47.15h0M195.97 47.15h0M196.81 47.16h0M197.66 47.16h0M198.51 47.17h0M199.36 47.17h0M200.20 47.18h0M201.05 47.19h0M201.90 47.19h0M202.74 47.20h0M203.59 47.20h0M204.44 47.21h0M205.28 47.22h0M206.13 47.22h0M206.98 47.23h0M207.82 47.24h0M208.67 47.25h0M209.52 47.25h0M210.37 47.26h0M211.21 47.27h0M212.06 47.28h0M212.91 47.28h0M213.75 47.29h0M214.60 47.30h0M215.45 47.31h0M216.29 47.32h0M217.14 47.33h0M217.99 47.34h0M218.83 47.35h0M219.68 47.36h0M220.53 47.37h0M221.37 47.38h0M222.22 47.39h0M223.07 47.40h0M223.92 47.41h0M224.76 47.43h0M225.61 47.44h0M226.46 47.45h0M227.30 47.46h0M228.15 47.48h0M229.00 47.49h0M229.84 47.51h0M230.69 47.52h0M231.54 47.54h0M232.38 47.55h0M233.23 47.57h0M234.08 47.58h0M234.93 47.60h0M235.77 47.62h0M236.62 47.64h0M237.47 47.66h0M238.31 47.69h0M239.16 47.72h0M240.01 47.75h0M240.85 47.78h0M241.70 47.82h0M242.55 47.86h0M243.39 47.90h0M244.24 47.95h0M245.09 48.00h0M245.94 48.05h0M246.78 48.10h0M247.63 48.15h0M248.48 48.21h0M249.32 48.27h0M250.17 48.33h0M251.02 48.39h0M251.86 48.46h0M252.71 48.53h0M253.56 48.60h0M254.40 48.67h0M255.25 48.75h0M256.10 48.82h0M256.94 48.90h0M257.79 48.98h0M258.64 49.07h0M259.49 49.20h0M260.33 49.35h0M261.18 49.49h0M262.03 49.60h0M262.87 49.70h0M263.72 49.78h0M264.57 49.87h0M265.41 49.95h0M266.26 50.03h0M267.11 50.11h0M267.95 50.18h0M268.80 50.25h0M269.65 50.32h0M270.50 50.39h0M271.34 50.45h0M272.19 50.51h0M273.04 50.57h0M273.88 50.63h0M274.73 50.69h0M275.58 50.75h0M276.42 50.81h0M277.27 50.86h0M278.12 50.92h0M278.96 50.98h0M279.81 51.03h0M280.66 51.09h0M281.51 51.15h0M282.35 51.21h0M283.20 51.26h0M284.05 51.33h0M284.89 51.39h0M285.74 51.45h0M286.59 51.52h0M287.43 51.58h0M288.28 51.65h0M289.13 51.72h0M289.97 51.80h0M290.82 51.88h0M291.67 51.96h0M292.51 52.05h0M293.36 52.14h0M294.21 52.23h0M295.06 52.33h0M295.90 52.42h0M296.75 52.52h0M297.60 52.61h0M298.44 52.70h0M299.29 52.78h0M300.14 52.86h0M300.98 52.93h0M301.83 52.99h0M302.68 53.04h0M303.52 53.10h0M304.37 53.15h0M305.22 53.21h0M306.07 53.26h0M306.91 53.31h0M307.76 53.36h0M308.61 53.41h0M309.45 53.45h0M310.30 53.50h0M311.15 53.55h0M311.99 53.59h0M312.84 53.63h0M313.69 53.68h0M314.53 53.72h0M315.38 53.76h0M316.23 53.80h0M317.07 53.83h0M317.92 53.87h0M318.77 53.90h0M319.62 53.94h0M320.46 53.97h0M321.31 54.00h0M322.16 54.03h0M323.00 54.06h0M323.85 54.09h0M324.70 54.11h0M325.54 54.14h0M326.39 54.16h0M327.24 54.18h0M328.08 54.20h0M328.93 54.22h0M329.78 54.24h0M330.63 54.26h0M331.47 54.27h0M332.32 54.29h0M333.17 54.30h0M334.01 54.31h0M334.86 54.33h0M335.71 54.34h0M336.55 54.35h0M337.40 54.36h0M338.25 54.38h0M339.09 54.39h0M339.94 54.40h0M340.79 54.41h0M341.64 54.42h0M342.48 54.43h0M343.33 54.45h0M344.18 54.46h0M345.02 54.47h0M345.87 54.48h0M346.72 54.49h0M347.56 54.50h0M348.41 54.51h0M349.26 54.52h0M350.10 54.54h0M350.95 54.55h0M351.80 54.56h0M352.64 54.57h0M353.49 54.58h0M354.34 54.59h0M355.19 54.60h0M356.03 54.61h0M356.88 54.62h0M357.73 54.63h0M358.57 54.65h0M359.42 54.66h0M360.27 54.67h0M361.11 54.68h0M361.96 54.69h0M362.81 54.70h0M363.65 54.71h0M364.50 54.72h0M365.35 54.73h0M366.20 54.74h0M367.04 54.75h0M367.89 54.76h0M368.74 54.77h0M369.58 54.78h0M370.43 54.79h0M371.28 54.80h0M372.12 54.81h0M372.97 54.82h0M373.82 54.83h0M374.66 54.84h0M375.51 54.85h0M376.36 54.85h0M377.21 54.86h0M378.05 54.87h0M378.90 54.88h0M379.75 54.89h0M380.59 54.90h0M381.44 54.91h0M382.29 54.92h0M383.13 54.92h0M383.98 54.93h0M384.83 54.94h0M385.67 54.95h0M386.52 54.96h0M387.37 54.96h0M388.21 54.97h0M389.06 54.98h0M389.91 54.99h0M390.76 54.99h0M391.60 55.00h0M392.45 55.01h0M393.30 55.01h0M394.14 55.02h0M394.99 55.03h0M395.84 55.03h0M396.68 55.04h0M397.53 55.05h0M398.38 55.05h0M399.22 55.06h0M400.07 55.06h0M400.92 55.07h0M401.77 55.07h0M402.61 55.08h0M403.46 55.09h0" fill="none" stroke="#000" stroke-width="3.46" stroke-linecap="round"/>
<path d="M50.30 56.40h0M51.15 56.40h0M51.99 56.40h0M52.84 56.40h0M53.69 56.40h0M54.53 56.40h0M55.38 56.40h0M56.23 56.40h0M57.08 56.40h0M57.92 56.40h0M58.77 56.40h0M59.62 56.40h0M60.46 56.40h0M61.31 56.40h0M62.16 56.40h0M63.00 56.40h0M63.85 56.40h0M64.70 56.41h0M65.54 56.41h0M66.39 56.41h0M67.24 56.41h0M68.08 56.41h0M68.93 56.41h0M69.78 56.41h0M70.63 56.41h0M71.47 56.41h0M72.32 56.41h0M73.17 56.41h0M74.01 56.41h0M74.86 56.42h0M75.71 56.42h0M76.55 56.42h0M77.40 56.42h0M78.25 56.42h0M79.09 56.42h0M79.94 56.42h0M80.79 56.42h0M81.64 56.42h0M82.48 56.43h0M83.33 56.43h0M84.18 56.43h0M85.02 56.43h0M85.87 56.43h0M86.72 56.43h0M87.56 56.43h0M88.41 56.44h0M89.26 56.44h0M90.10 56.44h0M90.95 56.44h0M91.80 56.44h0M92.65 56.44h0M93.49 56.45h0M94.34 56.45h0M95.19 56.45h0M96.03 56.45h0M96.88 56.45h0M97.73 56.45h0M98.57 56.46h0M99.42 56.46h0M100.27 56.46h0M101.11 56.46h0M101.96 56.46h0M102.81 56.46h0M103.66 56.47h0M104.50 56.47h0M105.35 56.47h0M106.20 56.47h0M107.04 56.47h0M107.89 56.48h0M108.74 56.48h0M109.58 56.48h0M110.43 56.48h0M111.28 56.48h0M112.12 56.49h0M112.97 56.49h0M113.82 56.49h0M114.66 56.49h0M115.51 56.49h0M116.36 56.50h0M117.21 56.50h0M118.05 56.50h0M118.90 56.50h0M119.75 56.50h0M120.59 56.51h0M121.44 56.51h0M122.29 56.51h0M123.13 56.52h0M123.98 56.52h0M124.83 56.52h0M125.67 56.53h0M126.52 56.53h0M127.37 56.53h0M128.22 56.54h0M129.06 56.54h0M129.91 56.55h0M130.76 56.55h0M131.60 56.56h0M132.45 56.56h0M133.30 56.57h0M134.14 56.57h0M134.99 56.58h0M135.84 56.58h0M136.68 56.59h0M137.53 56.59h0M138.38 56.60h0M139.23 56.60h0M140.07 56.61h0M140.92 56.62h0M141.77 56.62h0M142.61 56.63h0M143.46 56.63h0M144.31 56.64h0M145.15 56.65h0M146.00 56.65h0M146.85 56.66h0M147.69 56.67h0M148.54 56.68h0M149.39 56.68h0M150.23 56.69h0M151.08 56.70h0M151.93 56.71h0M152.78 56.71h0M153.62 56.72h0M154.47 56.73h0M155.32 56.74h0M156.16 56.75h0M157.01 56.75h0M157.86 56.76h0M158.70 56.77h0M159.55 56.78h0M160.40 56.79h0M161.24 56.80h0M162.09 56.80h0M162.94 56.81h0M163.79 56.82h0M164.63 56.83h0M165.48 56.84h0M166.33 56.85h0M167.17 56.86h0M168.02 56.87h0M168.87 56.88h0M169.71 56.89h0M170.56 56.90h0M171.41 56.91h0M172.25 56.91h0M173.10 56.92h0M173.95 56.93h0M174.80 56.94h0M175.64 56.95h0M176.49 56.96h0M177.34 56.97h0M178.18 56.98h0M179.03 56.99h0M179.88 57.00h0M180.72 57.01h0M181.57 57.02h0M182.42 57.03h0M183.26 57.04h0M184.11 57.05h0M184.96 57.06h0M185.80 57.07h0M186.65 57.08h0M187.50 57.09h0M188.35 57.10h0M189.19 57.11h0M190.04 57.12h0M190.89 57.14h0M191.73 57.15h0M192.58 57.16h0M193.43 57.17h0M194.27 57.18h0M195.12 57.19h0M195.97 57.20h0M196.81 57.21h0M197.66 57.22h0M198.51 57.24h0M199.36 57.25h0M200.20 57.26h0M201.05 57.27h0M201.90 57.28h0M202.74 57.30h0M203.59 57.31h0M204.44 57.32h0M205.28 57.34h0M206.13 57.35h0M206.98 57.36h0M207.82 57.38h0M208.67 57.39h0M209.52 57.40h0M210.37 57.42h0M211.21 57.43h0M212.06 57.45h0M212.91 57.46h0M213.75 57.48h0M214.60 57.50h0M215.45 57.51h0M216.29 57.53h0M217.14 57.55h0M217.99 57.56h0M218.83 57.58h0M219.68 57.60h0M220.53 57.62h0M221.37 57.64h0M222.22 57.66h0M223.07 57.68h0M223.92 57.70h0M224.76 57.72h0M225.61 57.74h0M226.46 57.76h0M227.30 57.78h0M228.15 57.80h0M229.00 57.83h0M229.84 57.85h0M230.69 57.87h0M231.54 57.90h0M232.38 57.92h0M233.23 57.95h0M234.08 57.97h0M234.93 58.00h0M235.77 58.03h0M236.62 58.06h0M237.47 58.09h0M238.31 58.13h0M239.16 58.17h0M240.01 58.21h0M240.85 58.26h0M241.70 58.30h0M242.55 58.35h0M243.39 58.41h0M244.24 58.46h0M245.09 58.51h0M245.94 58.57h0M246.78 58.63h0M247.63 58.69h0M248.48 58.74h0M249.32 58.80h0M250.17 58.86h0M251.02 58.92h0M251.86 58.98h0M252.71 59.04h0M253.56 59.10h0M254.40 59.16h0M255.25 59.22h0M256.10 59.28h0M256.94 59.33h0M257.79 59.39h0M258.64 59.44h0M259.49 59.49h0M260.33 59.55h0M261.18 59.60h0M262.03 59.66h0M262.87 59.71h0M263.72 59.77h0M264.57 59.82h0M265.41 59.88h0M266.26 59.94h0M267.11 59.99h0M267.95 60.05h0M268.80 60.11h0M269.65 60.16h0M270.50 60.22h0M271.34 60.28h0M272.19 60.34h0M273.04 60.39h0M273.88 60.45h0M274.73 60.51h0M275.58 60.56h0M276.42 60.62h0M277.27 60.68h0M278.12 60.73h0M278.96 60.79h0M279.81 60.85h0M280.66 60.90h0M281.51 60.96h0M282.35 61.01h0M283.20 61.07h0M284.05 61.12h0M284.89 61.18h0M285.74 61.23h0M286.59 61.29h0M287.43 61.34h0M288.28 61.39h0M289.13 61.45h0M289.97 61.50h0M290.82 61.55h0M291.67 61.60h0M292.51 61.65h0M293.36 61.71h0M294.21 61.76h0M295.06 61.81h0M295.90 61.86h0M296.75 61.91h0M297.60 61.96h0M298.44 62.01h0M299.29 62.05h0M300.14 62.10h0M300.98 62.15h0M301.83 62.19h0M302.68 62.24h0M303.52 62.28h0M304.37 62.33h0M305.22 62.38h0M306.07 62.42h0M306.91 62.47h0M307.76 62.52h0M308.61 62.57h0M309.45 62.62h0M310.30 62.67h0M311.15 62.71h0M311.99 62.76h0M312.84 62.81h0M313.69 62.86h0M314.53 62.90h0M315.38 62.95h0M316.23 62.99h0M317.07 63.03h0M317.92 63.07h0M318.77 63.11h0M319.62 63.15h0M320.46 63.19h0M321.31 63.22h0M322.16 63.25h0M323.00 63.28h0M323.85 63.31h0M324.70 63.33h0M325.54 63.35h0M326.39 63.37h0M327.24 63.39h0M328.08 63.40h0M328.93 63.41h0M329.78 63.42h0M330.63 63.43h0M331.47 63.44h0M332.32 63.44h0M333.17 63.45h0M334.01 63.46h0M334.86 63.46h0M335.71 63.47h0M336.55 63.48h0M337.40 63.48h0M338.25 63.49h0M339.09 63.49h0M339.94 63.50h0M340.79 63.51h0M341.64 63.51h0M342.48 63.52h0M343.33 63.53h0M344.18 63.53h0M345.02 63.54h0M345.87 63.55h0M346.72 63.55h0M347.56 63.56h0M348.41 63.57h0M349.26 63.57h0M350.10 63.58h0M350.95 63.59h0M351.80 63.59h0M352.64 63.60h0M353.49 63.61h0M354.34 63.61h0M355.19 63.62h0M356.03 63.63h0M356.88 63.63h0M357.73 63.64h0M358.57 63.65h0M359.42 63.65h0M360.27 63.66h0M361.11 63.67h0M361.96 63.67h0M362.81 63.68h0M363.65 63.69h0M364.50 63.69h0M365.35 63.70h0M366.20 63.71h0M367.04 63.71h0M367.89 63.72h0M368.74 63.73h0M369.58 63.73h0M370.43 63.74h0M371.28 63.75h0M372.12 63.75h0M372.97 63.76h0M373.82 63.77h0M374.66 63.77h0M375.51 63.78h0M376.36 63.78h0M377.21 63.79h0M378.05 63.80h0M378.90 63.80h0M379.75 63.81h0M380.59 63.82h0M381.44 63.82h0M382.29 63.83h0M383.13 63.84h0M383.98 63.84h0M384.83 63.85h0M385.67 63.85h0M386.52 63.86h0M387.37 63.87h0M388.21 63.87h0M389.06 63.88h0M389.91 63.89h0M390.76 63.89h0M391.60 63.90h0M392.45 63.90h0M393.30 63.91h0M394.14 63.92h0M394.99 63.92h0M395.84 63.93h0M396.68 63.93h0M397.53 63.94h0M398.38 63.95h0M399.22 63.95h0M400.07 63.96h0M400.92 63.96h0M401.77 63.97h0M402.61 63.98h0M403.46 63.98h0" fill="none" stroke="#000" stroke-width="3.46" stroke-linecap="round"/>
<path d="M50.30 64.60h0M51.15 64.60h0M51.99 64.60h0M52.84 64.60h0M53.69 64.60h0M54.53 64.60h0M55.38 64.61h0M56.23 64.61h0M57.08 64.61h0M57.92 64.61h0M58.77 64.61h0M59.62 64.61h0M60.46 64.61h0M61.31 64.61h0M62.16 64.62h0M63.00 64.62h0M63.85 64.62h0M64.70 64.62h0M65.54 64.62h0M66.39 64.62h0M67.24 64.63h0M68.08 64.63h0M68.93 64.63h0M69.78 64.63h0M70.63 64.63h0M71.47 64.64h0M72.32 64.64h0M73.17 64.64h0M74.01 64.64h0M74.86 64.65h0M75.71 64.65h0M76.55 64.65h0M77.40 64.65h0M78.25 64.65h0M79.09 64.66h0M79.94 64.66h0M80.79 64.66h0M81.64 64.66h0M82.48 64.67h0M83.33 64.67h0M84.18 64.67h0M85.02 64.68h0M85.87 64.68h0M86.72 64.68h0M87.56 64.68h0M88.41 64.69h0M89.26 64.69h0M90.10 64.69h0M90.95 64.69h0M91.80 64.70h0M92.65 64.70h0M93.49 64.70h0M94.34 64.71h0M95.19 64.71h0M96.03 64.71h0M96.88 64.72h0M97.73 64.72h0M98.57 64.72h0M99.42 64.73h0M100.27 64.73h0M101.11 64.73h0M101.96 64.74h0M102.81 64.74h0M103.66 64.74h0M104.50 64.75h0M105.35 64.75h0M106.20 64.75h0M107.04 64.76h0M107.89 64.76h0M108.74 64.76h0M109.58 64.77h0M110.43 64.77h0M111.28 64.77h0M112.12 64.78h0M112.97 64.78h0M113.82 64.78h0M114.66 64.79h0M115.51 64.79h0M116.36 64.79h0M117.21 64.80h0M118.05 64.80h0M118.90 64.80h0M119.75 64.81h0M120.59 64.81h0M121.44 64.81h0M122.29 64.82h0M123.13 64.82h0M123.98 64.83h0M124.83 64.83h0M125.67 64.83h0M126.52 64.84h0M127.37 64.84h0M128.22 64.84h0M129.06 64.85h0M129.91 64.85h0M130.76 64.86h0M131.60 64.86h0M132.45 64.86h0M133.30 64.87h0M134.14 64.87h0M134.99 64.88h0M135.84 64.88h0M136.68 64.88h0M137.53 64.89h0M138.38 64.89h0M139.23 64.90h0M140.07 64.90h0M140.92 64.91h0M141.77 64.91h0M142.61 64.91h0M143.46 64.92h0M144.31 64.92h0M145.15 64.93h0M146.00 64.93h0M146.85 64.94h0M147.69 64.94h0M148.54 64.95h0M149.39 64.95h0M150.23 64.96h0M151.08 64.96h0M151.93 64.97h0M152.78 64.97h0M153.62 64.98h0M154.47 64.99h0M155.32 64.99h0M156.16 65.00h0M157.01 65.00h0M157.86 65.01h0M158.70 65.02h0M159.55 65.02h0M160.40 65.03h0M161.24 65.03h0M162.09 65.04h0M162.94 65.05h0M163.79 65.05h0M164.63 65.06h0M165.48 65.07h0M166.33 65.07h0M167.17 65.08h0M168.02 65.09h0M168.87 65.10h0M169.71 65.10h0M170.56 65.11h0M171.41 65.12h0M172.25 65.13h0M173.10 65.14h0M173.95 65.14h0M174.80 65.15h0M175.64 65.16h0M176.49 65.17h0M177.34 65.18h0M178.18 65.19h0M179.03 65.20h0M179.88 65.20h0M180.72 65.21h0M181.57 65.22h0M182.42 65.23h0M183.26 65.24h0M184.11 65.25h0M184.96 65.26h0M185.80 65.27h0M186.65 65.28h0M187.50 65.29h0M188.35 65.30h0M189.19 65.32h0M190.04 65.33h0M190.89 65.34h0M191.73 65.36h0M192.58 65.37h0M193.43 65.39h0M194.27 65.41h0M195.12 65.43h0M195.97 65.44h0M196.81 65.47h0M197.66 65.49h0M198.51 65.51h0M199.36 65.53h0M200.20 65.55h0M201.05 65.58h0M201.90 65.60h0M202.74 65.63h0M203.59 65.66h0M204.44 65.69h0M205.28 65.71h0M206.13 65.74h0M206.98 65.77h0M207.82 65.80h0M208.67 65.84h0M209.52 65.87h0M210.37 65.90h0M211.21 65.93h0M212.06 65.97h0M212.91 66.00h0M213.75 66.04h0M214.60 66.07h0M215.45 66.11h0M216.29 66.14h0M217.14 66.18h0M217.99 66.22h0M218.83 66.26h0M219.68 66.30h0M220.53 66.34h0M221.37 66.38h0M222.22 66.42h0M223.07 66.46h0M223.92 66.50h0M224.76 66.54h0M225.61 66.58h0M226.46 66.62h0M227.30 66.66h0M228.15 66.71h0M229.00 66.75h0M229.84 66.80h0M230.69 66.85h0M231.54 66.91h0M232.38 66.96h0M233.23 67.02h0M234.08 67.09h0M234.93 67.15h0M235.77 67.22h0M236.62 67.28h0M237.47 67.35h0M238.31 67.42h0M239.16 67.49h0M240.01 67.57h0M240.85 67.64h0M241.70 67.71h0M242.55 67.79h0M243.39 67.86h0M244.24 67.93h0M245.09 68.01h0M245.94 68.09h0M246.78 68.17h0M247.63 68.27h0M248.48 68.36h0M249.32 68.47h0M250.17 68.57h0M251.02 68.68h0M251.86 68.78h0M252.71 68.89h0M253.56 69.00h0M254.40 69.10h0M255.25 69.20h0M256.10 69.29h0M256.94 69.38h0M257.79 69.46h0M258.64 69.53h0M259.49 69.59h0M260.33 69.64h0M261.18 69.68h0M262.03 69.70h0M262.87 69.72h0M263.72 69.73h0M264.57 69.75h0M265.41 69.76h0M266.26 69.77h0M267.11 69.78h0M267.95 69.80h0M268.80 69.81h0M269.65 69.81h0M270.50 69.82h0M271.34 69.83h0M272.19 69.84h0M273.04 69.85h0M273.88 69.85h0M274.73 69.86h0M275.58 69.86h0M276.42 69.87h0M277.27 69.88h0M278.12 69.88h0M278.96 69.89h0M279.81 69.89h0M280.66 69.90h0M281.51 69.91h0M282.35 69.91h0M283.20 69.92h0M284.05 69.93h0M284.89 69.94h0M285.74 69.94h0M286.59 69.95h0M287.43 69.96h0M288.28 69.97h0M289.13 69.99h0M289.97 70.00h0M290.82 70.02h0M291.67 70.03h0M292.51 70.06h0M293.36 70.08h0M294.21 70.11h0M295.06 70.13h0M295.90 70.16h0M296.75 70.19h0M297.60 70.21h0M298.44 70.24h0M299.29 70.26h0M300.14 70.28h0M300.98 70.29h0M301.83 70.30h0M302.68 70.30h0M303.52 70.31h0M304.37 70.31h0M305.22 70.32h0M306.07 70.32h0M306.91 70.32h0M307.76 70.33h0M308.61 70.33h0M309.45 70.33h0M310.30 70.34h0M311.15 70.34h0M311.99 70.34h0M312.84 70.34h0M313.69 70.34h0M314.53 70.35h0M315.38 70.35h0M316.23 70.35h0M317.07 70.35h0M317.92 70.35h0M318.77 70.36h0M319.62 70.36h0M320.46 70.36h0M321.31 70.36h0M322.16 70.36h0M323.00 70.36h0M323.85 70.36h0M324.70 70.37h0M325.54 70.37h0M326.39 70.37h0M327.24 70.37h0M328.08 70.37h0M328.93 70.37h0M329.78 70.37h0M330.63 70.38h0M331.47 70.38h0M332.32 70.38h0M333.17 70.38h0M334.01 70.38h0M334.86 70.38h0M335.71 70.39h0M336.55 70.39h0M337.40 70.39h0M338.25 70.39h0M339.09 70.40h0M339.94 70.40h0M340.79 70.40h0M341.64 70.41h0M342.48 70.41h0M343.33 70.41h0M344.18 70.42h0M345.02 70.42h0M345.87 70.42h0M346.72 70.43h0M347.56 70.43h0M348.41 70.43h0M349.26 70.44h0M350.10 70.44h0M350.95 70.44h0M351.80 70.45h0M352.64 70.45h0M353.49 70.46h0M354.34 70.46h0M355.19 70.46h0M356.03 70.47h0M356.88 70.47h0M357.73 70.48h0M358.57 70.48h0M359.42 70.48h0M360.27 70.49h0M361.11 70.49h0M361.96 70.50h0M362.81 70.50h0M363.65 70.51h0M364.50 70.51h0M365.35 70.52h0M366.20 70.52h0M367.04 70.53h0M367.89 70.53h0M368.74 70.54h0M369.58 70.54h0M370.43 70.55h0M371.28 70.55h0M372.12 70.56h0M372.97 70.56h0M373.82 70.57h0M374.66 70.57h0M375.51 70.58h0M376.36 70.58h0M377.21 70.59h0M378.05 70.59h0M378.90 70.60h0M379.75 70.60h0M380.59 70.61h0M381.44 70.62h0M382.29 70.62h0M383.13 70.63h0M383.98 70.63h0M384.83 70.64h0M385.67 70.64h0M386.52 70.65h0M387.37 70.66h0M388.21 70.66h0M389.06 70.67h0M389.91 70.67h0M390.76 70.68h0M391.60 70.69h0M392.45 70.69h0M393.30 70.70h0M394.14 70.71h0M394.99 70.71h0M395.84 70.72h0M396.68 70.73h0M397.53 70.73h0M398.38 70.74h0M399.22 70.75h0M400.07 70.75h0M400.92 70.76h0M401.77 70.77h0M402.61 70.77h0M403.46 70.78h0" fill="none" stroke="#000" stroke-width="3.46" stroke-linecap="round"/>
<path d="M50.30 70.90h0M51.15 70.90h0M51.99 70.90h0M52.84 70.90h0M53.69 70.91h0M54.53 70.91h0M55.38 70.91h0M56.23 70.91h0M57.08 70.91h0M57.92 70.91h0M58.77 70.92h0M59.62 70.92h0M60.46 70.92h0M61.31 70.92h0M62.16 70.92h0M63.00 70.92h0M63.85 70.93h0M64.70 70.93h0M65.54 70.93h0M66.39 70.93h0M67.24 70.93h0M68.08 70.94h0M68.93 70.94h0M69.78 70.94h0M70.63 70.94h0M71.47 70.94h0M72.32 70.95h0M73.17 70.95h0M74.01 70.95h0M74.86 70.95h0M75.71 70.96h0M76.55 70.96h0M77.40 70.96h0M78.25 70.96h0M79.09 70.97h0M79.94 70.97h0M80.79 70.97h0M81.64 70.97h0M82.48 70.98h0M83.33 70.98h0M84.18 70.98h0M85.02 70.98h0M85.87 70.99h0M86.72 70.99h0M87.56 70.99h0M88.41 70.99h0M89.26 71.00h0M90.10 71.00h0M90.95 71.00h0M91.80 71.00h0M92.65 71.01h0M93.49 71.01h0M94.34 71.01h0M95.19 71.02h0M96.03 71.02h0M96.88 71.02h0M97.73 71.03h0M98.57 71.03h0M99.42 71.03h0M100.27 71.03h0M101.11 71.04h0M101.96 71.04h0M102.81 71.04h0M103.66 71.05h0M104.50 71.05h0M105.35 71.05h0M106.20 71.06h0M107.04 71.06h0M107.89 71.06h0M108.74 71.06h0M109.58 71.07h0M110.43 71.07h0M111.28 71.07h0M112.12 71.08h0M112.97 71.08h0M113.82 71.08h0M114.66 71.09h0M115.51 71.09h0M116.36 71.09h0M117.21 71.10h0M118.05 71.10h0M118.90 71.10h0M119.75 71.11h0M120.59 71.11h0M121.44 71.11h0M122.29 71.12h0M123.13 71.12h0M123.98 71.12h0M124.83 71.13h0M125.67 71.13h0M126.52 71.13h0M127.37 71.14h0M128.22 71.14h0M129.06 71.14h0M129.91 71.15h0M130.76 71.15h0M131.60 71.15h0M132.45 71.16h0M133.30 71.16h0M134.14 71.16h0M134.99 71.17h0M135.84 71.17h0M136.68 71.17h0M137.53 71.18h0M138.38 71.18h0M139.23 71.18h0M140.07 71.19h0M140.92 71.19h0M141.77 71.20h0M142.61 71.20h0M143.46 71.20h0M144.31 71.21h0M145.15 71.21h0M146.00 71.22h0M146.85 71.22h0M147.69 71.22h0M148.54 71.23h0M149.39 71.23h0M150.23 71.24h0M151.08 71.24h0M151.93 71.24h0M152.78 71.25h0M153.62 71.25h0M154.47 71.26h0M155.32 71.26h0M156.16 71.27h0M157.01 71.27h0M157.86 71.28h0M158.70 71.28h0M159.55 71.29h0M160.40 71.29h0M161.24 71.30h0M162.09 71.30h0M162.94 71.31h0M163.79 71.31h0M164.63 71.32h0M165.48 71.32h0M166.33 71.33h0M167.17 71.33h0M168.02 71.34h0M168.87 71.34h0M169.71 71.35h0M170.56 71.36h0M171.41 71.36h0M172.25 71.37h0M173.10 71.37h0M173.95 71.38h0M174.80 71.39h0M175.64 71.39h0M176.49 71.40h0M177.34 71.41h0M178.18 71.41h0M179.03 71.42h0M179.88 71.43h0M180.72 71.43h0M181.57 71.44h0M182.42 71.45h0M183.26 71.46h0M184.11 71.46h0M184.96 71.47h0M185.80 71.48h0M186.65 71.49h0M187.50 71.50h0M188.35 71.50h0M189.19 71.51h0M190.04 71.52h0M190.89 71.53h0M191.73 71.54h0M192.58 71.55h0M193.43 71.57h0M194.27 71.58h0M195.12 71.59h0M195.97 71.61h0M196.81 71.62h0M197.66 71.64h0M198.51 71.66h0M199.36 71.67h0M200.20 71.69h0M201.05 71.71h0M201.90 71.73h0M202.74 71.75h0M203.59 71.77h0M204.44 71.79h0M205.28 71.81h0M206.13 71.83h0M206.98 71.85h0M207.82 71.88h0M208.67 71.91h0M209.52 71.94h0M210.37 71.97h0M211.21 72.00h0M212.06 72.04h0M212.91 72.07h0M213.75 72.11h0M214.60 72.14h0M215.45 72.18h0M216.29 72.22h0M217.14 72.26h0M217.99 72.30h0M218.83 72.34h0M219.68 72.38h0M220.53 72.43h0M221.37 72.47h0M222.22 72.52h0M223.07 72.57h0M223.92 72.63h0M224.76 72.68h0M225.61 72.73h0M226.46 72.79h0M227.30 72.85h0M228.15 72.91h0M229.00 72.98h0M229.84 73.05h0M230.69 73.12h0M231.54 73.20h0M232.38 73.29h0M233.23 73.37h0M234.08 73.46h0M234.93 73.55h0M235.77 73.64h0M236.62 73.73h0M237.47 73.82h0M238.31 73.91h0M239.16 74.00h0M240.01 74.09h0M240.85 74.17h0M241.70 74.25h0M242.55 74.32h0M243.39 74.39h0M244.24 74.45h0M245.09 74.51h0M245.94 74.56h0M246.78 74.61h0M247.63 74.67h0M248.48 74.72h0M249.32 74.78h0M250.17 74.83h0M251.02 74.89h0M251.86 74.94h0M252.71 74.99h0M253.56 75.04h0M254.40 75.08h0M255.25 75.12h0M256.10 75.16h0M256.94 75.20h0M257.79 75.23h0M258.64 75.25h0M259.49 75.27h0M260.33 75.29h0M261.18 75.30h0M262.03 75.30h0M262.87 75.30h0M263.72 75.30h0M264.57 75.30h0M265.41 75.30h0M266.26 75.30h0M267.11 75.29h0M267.95 75.29h0M268.80 75.29h0M269.65 75.28h0M270.50 75.28h0M271.34 75.28h0M272.19 75.27h0M273.04 75.27h0M273.88 75.27h0M274.73 75.26h0M275.58 75.26h0M276.42 75.25h0M277.27 75.25h0M278.12 75.24h0M278.96 75.24h0M279.81 75.23h0M280.66 75.23h0M281.51 75.22h0M282.35 75.21h0M283.20 75.21h0M284.05 75.20h0M284.89 75.20h0M285.74 75.19h0M286.59 75.19h0M287.43 75.18h0M288.28 75.17h0M289.13 75.17h0M289.97 75.16h0M290.82 75.16h0M291.67 75.15h0M292.51 75.15h0M293.36 75.14h0M294.21 75.14h0M295.06 75.13h0M295.90 75.13h0M296.75 75.12h0M297.60 75.12h0M298.44 75.11h0M299.29 75.11h0M300.14 75.11h0M300.98 75.10h0M301.83 75.10h0M302.68 75.10h0M303.52 75.09h0M304.37 75.09h0M305.22 75.09h0M306.07 75.09h0M306.91 75.08h0M307.76 75.08h0M308.61 75.08h0M309.45 75.08h0M310.30 75.07h0M311.15 75.07h0M311.99 75.07h0M312.84 75.07h0M313.69 75.07h0M314.53 75.06h0M315.38 75.06h0M316.23 75.06h0M317.07 75.06h0M317.92 75.06h0M318.77 75.05h0M319.62 75.05h0M320.46 75.05h0M321.31 75.05h0M322.16 75.05h0M323.00 75.04h0M323.85 75.04h0M324.70 75.04h0M325.54 75.04h0M326.39 75.04h0M327.24 75.03h0M328.08 75.03h0M328.93 75.03h0M329.78 75.03h0M330.63 75.03h0M331.47 75.02h0M332.32 75.02h0M333.17 75.02h0M334.01 75.02h0M334.86 75.02h0M335.71 75.01h0M336.55 75.01h0M337.40 75.01h0M338.25 75.01h0M339.09 75.00h0M339.94 75.00h0M340.79 75.00h0M341.64 74.99h0M342.48 74.99h0M343.33 74.99h0M344.18 74.99h0M345.02 74.98h0M345.87 74.98h0M346.72 74.98h0M347.56 74.97h0M348.41 74.97h0M349.26 74.97h0M350.10 74.97h0M350.95 74.96h0M351.80 74.96h0M352.64 74.96h0M353.49 74.95h0M354.34 74.95h0M355.19 74.95h0M356.03 74.94h0M356.88 74.94h0M357.73 74.94h0M358.57 74.93h0M359.42 74.93h0M360.27 74.93h0M361.11 74.92h0M361.96 74.92h0M362.81 74.92h0M363.65 74.91h0M364.50 74.91h0M365.35 74.90h0M366.20 74.90h0M367.04 74.90h0M367.89 74.89h0M368.74 74.89h0M369.58 74.89h0M370.43 74.88h0M371.28 74.88h0M372.12 74.87h0M372.97 74.87h0M373.82 74.87h0M374.66 74.86h0M375.51 74.86h0M376.36 74.86h0M377.21 74.85h0M378.05 74.85h0M378.90 74.84h0M379.75 74.84h0M380.59 74.83h0M381.44 74.83h0M382.29 74.83h0M383.13 74.82h0M383.98 74.82h0M384.83 74.81h0M385.67 74.81h0M386.52 74.81h0M387.37 74.80h0M388.21 74.80h0M389.06 74.79h0M389.91 74.79h0M390.76 74.78h0M391.60 74.78h0M392.45 74.77h0M393.30 74.77h0M394.14 74.77h0M394.99 74.76h0M395.84 74.76h0M396.68 74.75h0M397.53 74.75h0M398.38 74.74h0M399.22 74.74h0M400.07 74.73h0M400.92 74.73h0M401.77 74.72h0M402.61 74.72h0M403.46 74.71h0" fill="none" stroke="#000" stroke-width="3.46" stroke-linecap="round"/>
<path d="M50.30 75.25h0M51.15 75.25h0M51.99 75.25h0M52.84 75.25h0M53.69 75.25h0M54.53 75.26h0M55.38 75.26h0M56.23 75.26h0M57.08 75.26h0M57.92 75.26h0M58.77 75.26h0M59.62 75.27h0M60.46 75.27h0M61.31 75.27h0M62.16 75.27h0M63.00 75.27h0M63.85 75.28h0M64.70 75.28h0M65.54 75.28h0M66.39 75.28h0M67.24 75.29h0M68.08 75.29h0M68.93 75.29h0M69.78 75.29h0M70.63 75.29h0M71.47 75.30h0M72.32 75.30h0M73.17 75.30h0M74.01 75.31h0M74.86 75.31h0M75.71 75.31h0M76.55 75.31h0M77.40 75.32h0M78.25 75.32h0M79.09 75.32h0M79.94 75.33h0M80.79 75.33h0M81.64 75.33h0M82.48 75.34h0M83.33 75.34h0M84.18 75.34h0M85.02 75.35h0M85.87 75.35h0M86.72 75.35h0M87.56 75.36h0M88.41 75.36h0M89.26 75.36h0M90.10 75.37h0M90.95 75.37h0M91.80 75.37h0M92.65 75.38h0M93.49 75.38h0M94.34 75.39h0M95.19 75.39h0M96.03 75.39h0M96.88 75.40h0M97.73 75.40h0M98.57 75.40h0M99.42 75.41h0M100.27 75.41h0M101.11 75.42h0M101.96 75.42h0M102.81 75.42h0M103.66 75.43h0M104.50 75.43h0M105.35 75.44h0M106.20 75.44h0M107.04 75.44h0M107.89 75.45h0M108.74 75.45h0M109.58 75.46h0M110.43 75.46h0M111.28 75.47h0M112.12 75.47h0M112.97 75.47h0M113.82 75.48h0M114.66 75.48h0M115.51 75.49h0M116.36 75.49h0M117.21 75.50h0M118.05 75.50h0M118.90 75.50h0M119.75 75.51h0M120.59 75.51h0M121.44 75.52h0M122.29 75.52h0M123.13 75.53h0M123.98 75.53h0M124.83 75.54h0M125.67 75.54h0M126.52 75.55h0M127.37 75.55h0M128.22 75.56h0M129.06 75.57h0M129.91 75.57h0M130.76 75.58h0M131.60 75.58h0M132.45 75.59h0M133.30 75.59h0M134.14 75.60h0M134.99 75.61h0M135.84 75.61h0M136.68 75.62h0M137.53 75.63h0M138.38 75.63h0M139.23 75.64h0M140.07 75.65h0M140.92 75.65h0M141.77 75.66h0M142.61 75.67h0M143.46 75.67h0M144.31 75.68h0M145.15 75.69h0M146.00 75.69h0M146.85 75.70h0M147.69 75.71h0M148.54 75.72h0M149.39 75.72h0M150.23 75.73h0M151.08 75.74h0M151.93 75.75h0M152.78 75.75h0M153.62 75.76h0M154.47 75.77h0M155.32 75.78h0M156.16 75.78h0M157.01 75.79h0M157.86 75.80h0M158.70 75.81h0M159.55 75.82h0M160.40 75.82h0M161.24 75.83h0M162.09 75.84h0M162.94 75.85h0M163.79 75.86h0M164.63 75.86h0M165.48 75.87h0M166.33 75.88h0M167.17 75.89h0M168.02 75.90h0M168.87 75.91h0M169.71 75.91h0M170.56 75.92h0M171.41 75.93h0M172.25 75.94h0M173.10 75.95h0M173.95 75.96h0M174.80 75.97h0M175.64 75.97h0M176.49 75.98h0M177.34 75.99h0M178.18 76.00h0M179.03 76.01h0M179.88 76.02h0M180.72 76.03h0M181.57 76.03h0M182.42 76.04h0M183.26 76.05h0M184.11 76.06h0M184.96 76.07h0M185.80 76.08h0M186.65 76.09h0M187.50 76.09h0M188.35 76.10h0M189.19 76.11h0M190.04 76.12h0M190.89 76.13h0M191.73 76.14h0M192.58 76.15h0M193.43 76.16h0M194.27 76.17h0M195.12 76.18h0M195.97 76.20h0M196.81 76.21h0M197.66 76.22h0M198.51 76.23h0M199.36 76.24h0M200.20 76.25h0M201.05 76.26h0M201.90 76.27h0M202.74 76.28h0M203.59 76.29h0M204.44 76.29h0M205.28 76.30h0M206.13 76.31h0M206.98 76.32h0M207.82 76.32h0M208.67 76.33h0M209.52 76.33h0M210.37 76.34h0M211.21 76.34h0M212.06 76.35h0M212.91 76.35h0M213.75 76.36h0M214.60 76.37h0M215.45 76.37h0M216.29 76.38h0M217.14 76.39h0M217.99 76.40h0M218.83 76.41h0M219.68 76.42h0M220.53 76.44h0M221.37 76.46h0M222.22 76.48h0M223.07 76.51h0M223.92 76.54h0M224.76 76.59h0M225.61 76.68h0M226.46 76.89h0M227.30 77.20h0M228.15 77.77h0M229.00 78.60h0M229.84 79.60h0M230.69 80.87h0" fill="none" stroke="#000" stroke-width="3.46" stroke-linecap="round"/>
<polyline points="232.00,80.60 235.05,78.88 238.10,77.16 241.15,75.43 244.19,73.70 247.24,71.97 250.29,70.24 253.34,68.51 256.39,66.77 259.44,65.03 262.49,63.29 265.54,61.55 268.58,59.80 271.63,58.06 274.68,56.31 277.73,54.56 280.78,52.80 283.83,51.05 286.88,49.29 289.93,47.53 292.97,45.77 296.02,44.01 299.07,42.24 302.12,40.48 305.17,38.71 308.22,36.93 311.27,35.16 314.32,33.38 317.36,31.61 320.41,29.83 323.46,28.04 326.51,26.26 329.56,24.47 332.61,22.68 335.66,20.89 338.71,19.10 341.75,17.30 344.80,15.51 347.85,13.71 350.90,11.91" fill="none" stroke="#12a0f0" stroke-width="5.6" stroke-linecap="round" stroke-linejoin="round"/>
<path d="M67.24 500.5v-5M67.24 267.3v5M109.58 500.5v-5M109.58 267.3v5M151.93 500.5v-5M151.93 267.3v5M194.27 500.5v-5M194.27 267.3v5M236.62 500.5v-5M236.62 267.3v5M278.96 500.5v-5M278.96 267.3v5M321.31 500.5v-5M321.31 267.3v5M363.65 500.5v-5M363.65 267.3v5M50.3 293.22h5M406.0 293.22h-5M50.3 319.14h5M406.0 319.14h-5M50.3 345.06h5M406.0 345.06h-5M50.3 370.98h5M406.0 370.98h-5M50.3 396.90h5M406.0 396.90h-5M50.3 422.82h5M406.0 422.82h-5M50.3 448.74h5M406.0 448.74h-5M50.3 474.66h5M406.0 474.66h-5" stroke="#000" stroke-width="1" fill="none"/>
<rect x="50.3" y="267.3" width="355.7" height="233.2" fill="none" stroke="#000" stroke-width="1.1"/>
<path d="M50.30 468.10h0M54.53 467.90h0M58.77 467.71h0M63.00 467.52h0M67.24 467.33h0M71.47 467.15h0M75.71 466.97h0M79.94 466.77h0M84.18 466.55h0M88.41 466.34h0M92.65 466.17h0M96.88 466.04h0M101.12 465.99h0M105.35 465.97h0M109.59 465.96h0M113.82 465.94h0M118.06 465.93h0M122.29 465.92h0M126.53 465.91h0M130.76 465.90h0M135.00 465.88h0M139.24 465.86h0M143.47 465.83h0M147.71 465.81h0M151.94 465.78h0M156.18 465.75h0M160.41 465.73h0M164.65 465.70h0M168.88 465.67h0M173.12 465.65h0M177.35 465.62h0M181.59 465.60h0M185.82 465.58h0M190.06 465.57h0M194.29 465.55h0M198.53 465.54h0M202.76 465.53h0M207.00 465.52h0M211.23 465.51h0M215.47 465.50h0M219.70 465.49h0M223.94 465.48h0M228.17 465.47h0M232.41 465.46h0M236.64 465.45h0M240.88 465.45h0M245.11 465.44h0M249.35 465.43h0M253.58 465.43h0M257.82 465.42h0M262.05 465.42h0M266.29 465.41h0M270.52 465.41h0M274.76 465.40h0M278.99 465.40h0M283.23 465.40h0M287.46 465.40h0M291.70 465.40h0M295.93 465.40h0M300.17 465.40h0M304.40 465.40h0M308.64 465.40h0M312.87 465.40h0M317.11 465.40h0M321.34 465.40h0M325.58 465.40h0M329.81 465.40h0M334.05 465.40h0M338.28 465.40h0M342.52 465.40h0M346.75 465.40h0M350.99 465.40h0M355.22 465.40h0M359.46 465.40h0M363.69 465.40h0M367.93 465.40h0M372.16 465.40h0M376.40 465.40h0M380.63 465.40h0M384.87 465.40h0M389.10 465.40h0M393.34 465.40h0M397.57 465.40h0M401.81 465.40h0" fill="none" stroke="#ff0000" stroke-width="3.5" stroke-linecap="round"/>
<path d="M50.30 474.40h0M54.53 474.09h0M58.77 473.79h0M63.00 473.51h0M67.24 473.24h0M71.47 472.99h0M75.71 472.76h0M79.94 472.54h0M84.18 472.34h0M88.41 472.17h0M92.65 472.01h0M96.88 471.88h0M101.12 471.77h0M105.35 471.68h0M109.59 471.59h0M113.82 471.52h0M118.06 471.45h0M122.29 471.39h0M126.53 471.34h0M130.76 471.29h0M135.00 471.25h0M139.24 471.20h0M143.47 471.16h0M147.71 471.13h0M151.94 471.09h0M156.18 471.05h0M160.41 471.02h0M164.65 470.99h0M168.88 470.96h0M173.12 470.93h0M177.35 470.90h0M181.59 470.88h0M185.82 470.85h0M190.06 470.83h0M194.29 470.80h0M198.53 470.78h0M202.76 470.76h0M207.00 470.73h0M211.23 470.71h0M215.47 470.69h0M219.70 470.67h0M223.94 470.64h0M228.17 470.62h0M232.41 470.60h0M236.64 470.58h0M240.88 470.56h0M245.11 470.54h0M249.35 470.53h0M253.58 470.51h0M257.82 470.49h0M262.05 470.48h0M266.29 470.46h0M270.52 470.45h0M274.76 470.43h0M278.99 470.42h0M283.23 470.41h0M287.46 470.40h0M291.70 470.39h0M295.93 470.38h0M300.17 470.38h0M304.40 470.37h0M308.64 470.37h0M312.87 470.36h0M317.11 470.36h0M321.34 470.35h0M325.58 470.35h0M329.81 470.34h0M334.05 470.34h0M338.28 470.33h0M342.52 470.32h0M346.75 470.32h0M350.99 470.31h0M355.22 470.30h0M359.46 470.29h0M363.69 470.28h0M367.93 470.26h0M372.16 470.25h0M376.40 470.23h0M380.63 470.22h0M384.87 470.20h0M389.10 470.18h0M393.34 470.16h0M397.57 470.14h0M401.81 470.12h0" fill="none" stroke="#ff0000" stroke-width="3.5" stroke-linecap="round"/>
<path d="M50.30 482.30h0M54.53 482.05h0M58.77 481.81h0M63.00 481.57h0M67.24 481.35h0M71.47 481.14h0M75.71 480.94h0M79.94 480.74h0M84.18 480.56h0M88.41 480.40h0M92.65 480.24h0M96.88 480.10h0M101.12 479.97h0M105.35 479.84h0M109.59 479.73h0M113.82 479.62h0M118.06 479.52h0M122.29 479.43h0M126.53 479.35h0M130.76 479.29h0M135.00 479.23h0M139.24 479.18h0M143.47 479.13h0M147.71 479.09h0M151.94 479.05h0M156.18 479.01h0M160.41 478.97h0M164.65 478.94h0M168.88 478.90h0M173.12 478.87h0M177.35 478.84h0M181.59 478.81h0M185.82 478.77h0M190.06 478.74h0M194.29 478.71h0M198.53 478.67h0M202.76 478.64h0M207.00 478.60h0M211.23 478.56h0M215.47 478.53h0M219.70 478.49h0M223.94 478.46h0M228.17 478.42h0M232.41 478.39h0M236.64 478.36h0M240.88 478.32h0M245.11 478.29h0M249.35 478.26h0M253.58 478.23h0M257.82 478.19h0M262.05 478.16h0M266.29 478.13h0M270.52 478.11h0M274.76 478.08h0M278.99 478.05h0M283.23 478.03h0M287.46 478.00h0M291.70 477.98h0M295.93 477.96h0M300.17 477.94h0M304.40 477.92h0M308.64 477.90h0M312.87 477.88h0M317.11 477.86h0M321.34 477.84h0M325.58 477.82h0M329.81 477.80h0M334.05 477.79h0M338.28 477.77h0M342.52 477.75h0M346.75 477.73h0M350.99 477.72h0M355.22 477.70h0M359.46 477.68h0M363.69 477.66h0M367.93 477.65h0M372.16 477.63h0M376.40 477.61h0M380.63 477.60h0M384.87 477.58h0M389.10 477.56h0M393.34 477.55h0M397.57 477.53h0M401.81 477.52h0" fill="none" stroke="#ff0000" stroke-width="3.5" stroke-linecap="round"/>
<path d="M50.30 492.80h0M54.53 492.51h0M58.77 492.24h0M63.00 491.97h0M67.24 491.72h0M71.47 491.49h0M75.71 491.26h0M79.94 491.06h0M84.18 490.86h0M88.41 490.69h0M92.65 490.53h0M96.88 490.39h0M101.12 490.27h0M105.35 490.16h0M109.59 490.07h0M113.82 489.98h0M118.06 489.90h0M122.29 489.82h0M126.53 489.76h0M130.76 489.69h0M135.00 489.62h0M139.24 489.56h0M143.47 489.50h0M147.71 489.45h0M151.94 489.39h0M156.18 489.34h0M160.41 489.29h0M164.65 489.24h0M168.88 489.19h0M173.12 489.14h0M177.35 489.09h0M181.59 489.05h0M185.82 489.00h0M190.06 488.95h0M194.29 488.91h0M198.53 488.86h0M202.76 488.82h0M207.00 488.77h0M211.23 488.72h0M215.47 488.68h0M219.70 488.63h0M223.94 488.59h0M228.17 488.54h0M232.41 488.50h0M236.64 488.46h0M240.88 488.42h0M245.11 488.37h0M249.35 488.33h0M253.58 488.29h0M257.82 488.25h0M262.05 488.21h0M266.29 488.18h0M270.52 488.14h0M274.76 488.10h0M278.99 488.07h0M283.23 488.04h0M287.46 488.00h0M291.70 487.97h0M295.93 487.94h0M300.17 487.91h0M304.40 487.88h0M308.64 487.85h0M312.87 487.82h0M317.11 487.79h0M321.34 487.76h0M325.58 487.73h0M329.81 487.71h0M334.05 487.68h0M338.28 487.65h0M342.52 487.62h0M346.75 487.60h0M350.99 487.57h0M355.22 487.55h0M359.46 487.52h0M363.69 487.50h0M367.93 487.48h0M372.16 487.45h0M376.40 487.43h0M380.63 487.41h0M384.87 487.39h0M389.10 487.37h0M393.34 487.35h0M397.57 487.33h0M401.81 487.32h0" fill="none" stroke="#ff0000" stroke-width="3.5" stroke-linecap="round"/>
<path d="M198.53 500.40h0M202.76 500.36h0M207.00 500.33h0M211.23 500.29h0M215.47 500.26h0M219.70 500.22h0M223.94 500.19h0M228.17 500.15h0M232.41 500.11h0M236.64 500.08h0M240.88 500.04h0M245.11 500.00h0M249.35 499.96h0M253.58 499.93h0M257.82 499.89h0M262.05 499.85h0M266.29 499.81h0M270.52 499.77h0M274.76 499.73h0M278.99 499.69h0M283.23 499.65h0M287.46 499.61h0M291.70 499.56h0M295.93 499.52h0M300.17 499.48h0M304.40 499.44h0M308.64 499.39h0M312.87 499.35h0M317.11 499.31h0M321.34 499.26h0M325.58 499.22h0M329.81 499.17h0M334.05 499.13h0M338.28 499.08h0M342.52 499.04h0M346.75 498.99h0M350.99 498.94h0M355.22 498.89h0M359.46 498.85h0M363.69 498.80h0M367.93 498.75h0M372.16 498.70h0M376.40 498.65h0M380.63 498.60h0M384.87 498.55h0M389.10 498.50h0M393.34 498.45h0M397.57 498.40h0M401.81 498.35h0" fill="none" stroke="#ff0000" stroke-width="3.5" stroke-linecap="round"/>
<path d="M50.30 464.90h0M54.53 464.85h0M58.77 464.70h0M63.00 464.48h0M67.24 464.19h0M71.47 463.79h0M75.71 463.01h0M79.94 462.31h0M84.18 461.58h0M88.41 460.70h0M92.65 459.69h0M96.88 458.50h0M101.12 456.99h0M105.35 455.38h0M109.59 453.66h0M113.82 451.99h0M118.06 450.18h0M122.29 448.26h0M126.53 446.34h0M130.76 444.37h0M135.00 442.20h0M139.24 440.08h0M143.47 437.66h0M147.71 435.50h0M151.94 433.33h0M156.18 431.01h0M160.41 428.65h0M164.65 426.21h0M168.88 423.57h0M173.12 420.93h0M177.35 418.52h0M181.59 416.11h0M185.82 413.56h0M190.06 410.93h0M194.29 408.23h0M198.53 405.52h0M202.76 402.86h0M207.00 400.19h0M211.23 397.50h0M215.47 394.76h0M219.70 391.90h0M223.94 389.01h0M228.17 386.17h0M232.41 383.30h0M236.64 380.34h0M240.88 377.35h0M245.11 374.36h0M249.35 371.37h0M253.58 368.38h0M257.82 365.31h0M262.05 362.05h0M266.29 358.73h0M270.52 355.52h0M274.76 352.24h0M278.99 348.76h0M283.23 345.12h0M287.46 341.24h0M291.70 336.49h0" fill="none" stroke="#ff0000" stroke-width="3.5" stroke-linecap="round"/>
<path d="M50.30 269.00h0M51.15 269.00h0M51.99 269.00h0M52.84 269.00h0M53.69 269.00h0M54.53 269.00h0M55.38 269.00h0M56.23 268.99h0M57.08 268.99h0M57.92 268.99h0M58.77 268.99h0M59.62 268.99h0M60.46 268.99h0M61.31 268.99h0M62.16 268.99h0M63.00 268.99h0M63.85 268.99h0M64.70 268.99h0M65.54 268.99h0M66.39 268.99h0M67.24 268.98h0M68.08 268.98h0M68.93 268.98h0M69.78 268.98h0M70.63 268.98h0M71.47 268.98h0M72.32 268.98h0M73.17 268.98h0M74.01 268.98h0M74.86 268.98h0M75.71 268.98h0M76.55 268.98h0M77.40 268.97h0M78.25 268.97h0M79.09 268.97h0M79.94 268.97h0M80.79 268.97h0M81.64 268.97h0M82.48 268.97h0M83.33 268.97h0M84.18 268.97h0M85.02 268.97h0M85.87 268.97h0M86.72 268.96h0M87.56 268.96h0M88.41 268.96h0M89.26 268.96h0M90.10 268.96h0M90.95 268.96h0M91.80 268.96h0M92.65 268.96h0M93.49 268.96h0M94.34 268.96h0M95.19 268.95h0M96.03 268.95h0M96.88 268.95h0M97.73 268.95h0M98.57 268.95h0M99.42 268.95h0M100.27 268.95h0M101.11 268.95h0M101.96 268.95h0M102.81 268.95h0M103.66 268.94h0M104.50 268.94h0M105.35 268.94h0M106.20 268.94h0M107.04 268.94h0M107.89 268.94h0M108.74 268.94h0M109.58 268.94h0M110.43 268.94h0M111.28 268.93h0M112.12 268.93h0M112.97 268.93h0M113.82 268.93h0M114.66 268.93h0M115.51 268.93h0M116.36 268.93h0M117.21 268.93h0M118.05 268.93h0M118.90 268.92h0M119.75 268.92h0M120.59 268.92h0M121.44 268.92h0M122.29 268.92h0M123.13 268.92h0M123.98 268.92h0M124.83 268.92h0M125.67 268.92h0M126.52 268.91h0M127.37 268.91h0M128.22 268.91h0M129.06 268.91h0M129.91 268.91h0M130.76 268.91h0M131.60 268.91h0M132.45 268.91h0M133.30 268.90h0M134.14 268.90h0M134.99 268.90h0M135.84 268.90h0M136.68 268.90h0M137.53 268.90h0M138.38 268.90h0M139.23 268.90h0M140.07 268.90h0M140.92 268.89h0M141.77 268.89h0M142.61 268.89h0M143.46 268.89h0M144.31 268.89h0M145.15 268.89h0M146.00 268.89h0M146.85 268.89h0M147.69 268.88h0M148.54 268.88h0M149.39 268.88h0M150.23 268.88h0M151.08 268.88h0M151.93 268.88h0M152.78 268.88h0M153.62 268.87h0M154.47 268.87h0M155.32 268.87h0M156.16 268.87h0M157.01 268.87h0M157.86 268.87h0M158.70 268.87h0M159.55 268.87h0M160.40 268.86h0M161.24 268.86h0M162.09 268.86h0M162.94 268.86h0M163.79 268.86h0M164.63 268.86h0M165.48 268.86h0M166.33 268.86h0M167.17 268.85h0M168.02 268.85h0M168.87 268.85h0M169.71 268.85h0M170.56 268.85h0M171.41 268.85h0M172.25 268.85h0M173.10 268.84h0M173.95 268.84h0M174.80 268.84h0M175.64 268.84h0M176.49 268.84h0M177.34 268.84h0M178.18 268.84h0M179.03 268.83h0M179.88 268.83h0M180.72 268.83h0M181.57 268.83h0M182.42 268.83h0M183.26 268.83h0M184.11 268.83h0M184.96 268.82h0M185.80 268.82h0M186.65 268.82h0M187.50 268.82h0M188.35 268.82h0M189.19 268.82h0M190.04 268.82h0M190.89 268.81h0M191.73 268.81h0M192.58 268.81h0M193.43 268.81h0M194.27 268.81h0M195.12 268.81h0M195.97 268.81h0M196.81 268.80h0M197.66 268.80h0M198.51 268.80h0M199.36 268.80h0M200.20 268.80h0M201.05 268.80h0M201.90 268.80h0M202.74 268.79h0M203.59 268.79h0M204.44 268.79h0M205.28 268.79h0M206.13 268.79h0M206.98 268.79h0M207.82 268.79h0M208.67 268.78h0M209.52 268.78h0M210.37 268.78h0M211.21 268.78h0M212.06 268.78h0M212.91 268.78h0M213.75 268.78h0M214.60 268.77h0M215.45 268.77h0M216.29 268.77h0M217.14 268.77h0M217.99 268.77h0M218.83 268.77h0M219.68 268.76h0M220.53 268.76h0M221.37 268.76h0M222.22 268.76h0M223.07 268.76h0M223.92 268.76h0M224.76 268.76h0M225.61 268.75h0M226.46 268.75h0M227.30 268.75h0M228.15 268.75h0M229.00 268.75h0M229.84 268.75h0M230.69 268.74h0M231.54 268.74h0M232.38 268.74h0M233.23 268.74h0M234.08 268.74h0M234.93 268.74h0M235.77 268.74h0M236.62 268.73h0M237.47 268.73h0M238.31 268.73h0M239.16 268.73h0M240.01 268.73h0M240.85 268.73h0M241.70 268.72h0M242.55 268.72h0M243.39 268.72h0M244.24 268.72h0M245.09 268.72h0M245.94 268.72h0M246.78 268.72h0M247.63 268.71h0M248.48 268.71h0M249.32 268.71h0M250.17 268.71h0M251.02 268.71h0M251.86 268.71h0M252.71 268.70h0M253.56 268.70h0M254.40 268.70h0M255.25 268.70h0M256.10 268.70h0M256.94 268.70h0M257.79 268.69h0M258.64 268.69h0M259.49 268.69h0M260.33 268.69h0M261.18 268.69h0M262.03 268.69h0M262.87 268.68h0M263.72 268.68h0M264.57 268.68h0M265.41 268.68h0M266.26 268.67h0M267.11 268.67h0M267.95 268.67h0M268.80 268.67h0M269.65 268.67h0M270.50 268.66h0M271.34 268.66h0M272.19 268.66h0M273.04 268.66h0M273.88 268.65h0M274.73 268.65h0M275.58 268.65h0M276.42 268.65h0M277.27 268.64h0M278.12 268.64h0M278.96 268.64h0M279.81 268.64h0M280.66 268.63h0M281.51 268.63h0M282.35 268.63h0M283.20 268.63h0M284.05 268.62h0M284.89 268.62h0M285.74 268.62h0M286.59 268.61h0M287.43 268.61h0M288.28 268.61h0M289.13 268.61h0M289.97 268.60h0M290.82 268.60h0M291.67 268.60h0M292.51 268.60h0M293.36 268.59h0M294.21 268.59h0M295.06 268.59h0M295.90 268.59h0M296.75 268.58h0M297.60 268.58h0M298.44 268.58h0M299.29 268.57h0M300.14 268.57h0M300.98 268.57h0M301.83 268.57h0M302.68 268.56h0M303.52 268.56h0M304.37 268.56h0M305.22 268.56h0M306.07 268.55h0M306.91 268.55h0M307.76 268.55h0M308.61 268.55h0M309.45 268.55h0M310.30 268.54h0M311.15 268.54h0M311.99 268.54h0M312.84 268.54h0M313.69 268.54h0M314.53 268.53h0M315.38 268.53h0M316.23 268.53h0M317.07 268.53h0M317.92 268.53h0M318.77 268.52h0M319.62 268.52h0M320.46 268.52h0M321.31 268.52h0M322.16 268.52h0M323.00 268.52h0M323.85 268.51h0M324.70 268.51h0M325.54 268.51h0M326.39 268.51h0M327.24 268.51h0M328.08 268.51h0M328.93 268.51h0M329.78 268.51h0M330.63 268.51h0M331.47 268.50h0M332.32 268.50h0M333.17 268.50h0M334.01 268.50h0M334.86 268.50h0M335.71 268.50h0M336.55 268.50h0M337.40 268.50h0M338.25 268.50h0M339.09 268.50h0M339.94 268.50h0M340.79 268.50h0M341.64 268.51h0M342.48 268.52h0M343.33 268.53h0M344.18 268.55h0M345.02 268.57h0M345.87 268.59h0M346.72 268.61h0M347.56 268.64h0M348.41 268.67h0M349.26 268.69h0M350.10 268.72h0M350.95 268.75h0M351.80 268.79h0M352.64 268.82h0M353.49 268.85h0M354.34 268.88h0M355.19 268.91h0M356.03 268.94h0M356.88 268.97h0M357.73 269.00h0M358.57 269.04h0M359.42 269.07h0M360.27 269.11h0M361.11 269.15h0M361.96 269.19h0M362.81 269.24h0M363.65 269.28h0M364.50 269.33h0M365.35 269.37h0M366.20 269.42h0M367.04 269.47h0M367.89 269.53h0M368.74 269.58h0M369.58 269.64h0M370.43 269.70h0M371.28 269.76h0M372.12 269.83h0M372.97 269.90h0M373.82 269.97h0M374.66 270.04h0M375.51 270.12h0M376.36 270.20h0M377.21 270.29h0M378.05 270.38h0M378.90 270.48h0M379.75 270.58h0M380.59 270.68h0M381.44 270.79h0M382.29 270.90h0M383.13 271.02h0M383.98 271.15h0M384.83 271.29h0M385.67 271.44h0M386.52 271.60h0M387.37 271.78h0M388.21 271.95h0M389.06 272.13h0M389.91 272.32h0M390.76 272.51h0M391.60 272.69h0M392.45 272.88h0M393.30 273.06h0M394.14 273.25h0M394.99 273.44h0M395.84 273.63h0M396.68 273.82h0M397.53 274.02h0M398.38 274.21h0M399.22 274.41h0M400.07 274.62h0M400.92 274.82h0M401.77 275.03h0M402.61 275.24h0M403.46 275.45h0M404.31 275.66h0M405.15 275.88h0M406.00 276.10h0" fill="none" stroke="#000" stroke-width="3.46" stroke-linecap="round"/>
<path d="M50.30 283.40h0M51.15 283.39h0M51.99 283.38h0M52.84 283.37h0M53.69 283.36h0M54.53 283.34h0M55.38 283.33h0M56.23 283.32h0M57.08 283.31h0M57.92 283.30h0M58.77 283.29h0M59.62 283.28h0M60.46 283.27h0M61.31 283.26h0M62.16 283.25h0M63.00 283.24h0M63.85 283.23h0M64.70 283.22h0M65.54 283.21h0M66.39 283.20h0M67.24 283.19h0M68.08 283.18h0M68.93 283.17h0M69.78 283.16h0M70.63 283.15h0M71.47 283.14h0M72.32 283.14h0M73.17 283.13h0M74.01 283.12h0M74.86 283.11h0M75.71 283.10h0M76.55 283.09h0M77.40 283.08h0M78.25 283.07h0M79.09 283.06h0M79.94 283.06h0M80.79 283.05h0M81.64 283.04h0M82.48 283.03h0M83.33 283.02h0M84.18 283.01h0M85.02 283.01h0M85.87 283.00h0M86.72 282.99h0M87.56 282.98h0M88.41 282.97h0M89.26 282.97h0M90.10 282.96h0M90.95 282.95h0M91.80 282.94h0M92.65 282.94h0M93.49 282.93h0M94.34 282.92h0M95.19 282.91h0M96.03 282.91h0M96.88 282.90h0M97.73 282.89h0M98.57 282.89h0M99.42 282.88h0M100.27 282.87h0M101.11 282.86h0M101.96 282.86h0M102.81 282.85h0M103.66 282.84h0M104.50 282.84h0M105.35 282.83h0M106.20 282.83h0M107.04 282.82h0M107.89 282.81h0M108.74 282.81h0M109.58 282.80h0M110.43 282.79h0M111.28 282.79h0M112.12 282.78h0M112.97 282.78h0M113.82 282.77h0M114.66 282.76h0M115.51 282.76h0M116.36 282.75h0M117.21 282.75h0M118.05 282.74h0M118.90 282.74h0M119.75 282.73h0M120.59 282.73h0M121.44 282.72h0M122.29 282.71h0M123.13 282.71h0M123.98 282.70h0M124.83 282.70h0M125.67 282.69h0M126.52 282.69h0M127.37 282.68h0M128.22 282.68h0M129.06 282.67h0M129.91 282.67h0M130.76 282.66h0M131.60 282.66h0M132.45 282.66h0M133.30 282.65h0M134.14 282.65h0M134.99 282.64h0M135.84 282.64h0M136.68 282.63h0M137.53 282.63h0M138.38 282.62h0M139.23 282.62h0M140.07 282.62h0M140.92 282.61h0M141.77 282.61h0M142.61 282.60h0M143.46 282.60h0M144.31 282.60h0M145.15 282.59h0M146.00 282.59h0M146.85 282.59h0M147.69 282.58h0M148.54 282.58h0M149.39 282.57h0M150.23 282.57h0M151.08 282.57h0M151.93 282.56h0M152.78 282.56h0M153.62 282.56h0M154.47 282.55h0M155.32 282.55h0M156.16 282.55h0M157.01 282.54h0M157.86 282.54h0M158.70 282.54h0M159.55 282.53h0M160.40 282.53h0M161.24 282.53h0M162.09 282.53h0M162.94 282.52h0M163.79 282.52h0M164.63 282.52h0M165.48 282.51h0M166.33 282.51h0M167.17 282.51h0M168.02 282.51h0M168.87 282.50h0M169.71 282.50h0M170.56 282.50h0M171.41 282.50h0M172.25 282.49h0M173.10 282.49h0M173.95 282.49h0M174.80 282.49h0M175.64 282.48h0M176.49 282.48h0M177.34 282.48h0M178.18 282.48h0M179.03 282.48h0M179.88 282.47h0M180.72 282.47h0M181.57 282.47h0M182.42 282.47h0M183.26 282.47h0M184.11 282.46h0M184.96 282.46h0M185.80 282.46h0M186.65 282.46h0M187.50 282.46h0M188.35 282.45h0M189.19 282.45h0M190.04 282.45h0M190.89 282.45h0M191.73 282.45h0M192.58 282.45h0M193.43 282.45h0M194.27 282.44h0M195.12 282.44h0M195.97 282.44h0M196.81 282.44h0M197.66 282.44h0M198.51 282.44h0M199.36 282.44h0M200.20 282.43h0M201.05 282.43h0M201.90 282.43h0M202.74 282.43h0M203.59 282.43h0M204.44 282.43h0M205.28 282.43h0M206.13 282.43h0M206.98 282.42h0M207.82 282.42h0M208.67 282.42h0M209.52 282.42h0M210.37 282.42h0M211.21 282.42h0M212.06 282.42h0M212.91 282.42h0M213.75 282.42h0M214.60 282.42h0M215.45 282.42h0M216.29 282.42h0M217.14 282.41h0M217.99 282.41h0M218.83 282.41h0M219.68 282.41h0M220.53 282.41h0M221.37 282.41h0M222.22 282.41h0M223.07 282.41h0M223.92 282.41h0M224.76 282.41h0M225.61 282.41h0M226.46 282.41h0M227.30 282.41h0M228.15 282.41h0M229.00 282.41h0M229.84 282.41h0M230.69 282.41h0M231.54 282.40h0M232.38 282.40h0M233.23 282.40h0M234.08 282.40h0M234.93 282.40h0M235.77 282.40h0M236.62 282.40h0M237.47 282.40h0M238.31 282.40h0M239.16 282.40h0M240.01 282.40h0M240.85 282.40h0M241.70 282.40h0M242.55 282.40h0M243.39 282.40h0M244.24 282.40h0M245.09 282.40h0M245.94 282.40h0M246.78 282.40h0M247.63 282.40h0M248.48 282.40h0M249.32 282.40h0M250.17 282.40h0M251.02 282.40h0M251.86 282.40h0M252.71 282.40h0M253.56 282.40h0M254.40 282.40h0M255.25 282.40h0M256.10 282.40h0M256.94 282.40h0M257.79 282.40h0M258.64 282.40h0M259.49 282.40h0M260.33 282.40h0M261.18 282.40h0M262.03 282.40h0M262.87 282.41h0M263.72 282.41h0M264.57 282.41h0M265.41 282.41h0M266.26 282.41h0M267.11 282.41h0M267.95 282.42h0M268.80 282.42h0M269.65 282.42h0M270.50 282.42h0M271.34 282.43h0M272.19 282.43h0M273.04 282.43h0M273.88 282.43h0M274.73 282.44h0M275.58 282.44h0M276.42 282.44h0M277.27 282.45h0M278.12 282.45h0M278.96 282.46h0M279.81 282.46h0M280.66 282.46h0M281.51 282.47h0M282.35 282.47h0M283.20 282.48h0M284.05 282.48h0M284.89 282.49h0M285.74 282.49h0M286.59 282.50h0M287.43 282.50h0M288.28 282.51h0M289.13 282.51h0M289.97 282.52h0M290.82 282.52h0M291.67 282.53h0M292.51 282.53h0M293.36 282.54h0M294.21 282.55h0M295.06 282.55h0M295.90 282.56h0M296.75 282.57h0M297.60 282.57h0M298.44 282.58h0M299.29 282.59h0M300.14 282.59h0M300.98 282.60h0M301.83 282.61h0M302.68 282.62h0M303.52 282.62h0M304.37 282.63h0M305.22 282.64h0M306.07 282.65h0M306.91 282.66h0M307.76 282.66h0M308.61 282.67h0M309.45 282.68h0M310.30 282.69h0M311.15 282.70h0M311.99 282.71h0M312.84 282.72h0M313.69 282.73h0M314.53 282.74h0M315.38 282.75h0M316.23 282.76h0M317.07 282.77h0M317.92 282.78h0M318.77 282.79h0M319.62 282.80h0M320.46 282.81h0M321.31 282.82h0M322.16 282.83h0M323.00 282.85h0M323.85 282.87h0M324.70 282.89h0M325.54 282.92h0M326.39 282.94h0M327.24 282.97h0M328.08 283.00h0M328.93 283.03h0M329.78 283.06h0M330.63 283.10h0M331.47 283.13h0M332.32 283.17h0M333.17 283.21h0M334.01 283.25h0M334.86 283.29h0M335.71 283.34h0M336.55 283.40h0M337.40 283.47h0M338.25 283.54h0M339.09 283.62h0M339.94 283.69h0M340.79 283.77h0M341.64 283.85h0M342.48 283.94h0M343.33 284.02h0M344.18 284.11h0M345.02 284.20h0M345.87 284.30h0M346.72 284.39h0M347.56 284.49h0M348.41 284.59h0M349.26 284.69h0M350.10 284.80h0M350.95 284.90h0M351.80 285.01h0M352.64 285.12h0M353.49 285.23h0M354.34 285.35h0M355.19 285.47h0M356.03 285.59h0M356.88 285.72h0M357.73 285.85h0M358.57 285.99h0M359.42 286.13h0M360.27 286.27h0M361.11 286.41h0M361.96 286.55h0M362.81 286.70h0M363.65 286.84h0M364.50 286.99h0M365.35 287.14h0M366.20 287.29h0M367.04 287.45h0M367.89 287.62h0M368.74 287.78h0M369.58 287.94h0M370.43 288.09h0M371.28 288.24h0M372.12 288.39h0M372.97 288.52h0M373.82 288.64h0M374.66 288.76h0M375.51 288.86h0M376.36 288.96h0M377.21 289.06h0M378.05 289.15h0M378.90 289.26h0M379.75 289.37h0M380.59 289.48h0M381.44 289.62h0M382.29 289.76h0M383.13 289.90h0M383.98 290.06h0M384.83 290.22h0M385.67 290.37h0M386.52 290.53h0M387.37 290.69h0M388.21 290.84h0M389.06 290.98h0M389.91 291.12h0M390.76 291.24h0M391.60 291.35h0M392.45 291.45h0M393.30 291.53h0M394.14 291.60h0M394.99 291.67h0M395.84 291.75h0M396.68 291.82h0M397.53 291.88h0M398.38 291.95h0M399.22 292.01h0M400.07 292.06h0M400.92 292.11h0M401.77 292.16h0M402.61 292.20h0M403.46 292.24h0M404.31 292.27h0M405.15 292.29h0M406.00 292.30h0" fill="none" stroke="#000" stroke-width="3.46" stroke-linecap="round"/>
<path d="M50.30 296.20h0M51.15 296.19h0M51.99 296.19h0M52.84 296.18h0M53.69 296.18h0M54.53 296.17h0M55.38 296.16h0M56.23 296.16h0M57.08 296.15h0M57.92 296.15h0M58.77 296.14h0M59.62 296.13h0M60.46 296.13h0M61.31 296.12h0M62.16 296.12h0M63.00 296.11h0M63.85 296.11h0M64.70 296.10h0M65.54 296.10h0M66.39 296.09h0M67.24 296.09h0M68.08 296.08h0M68.93 296.08h0M69.78 296.07h0M70.63 296.07h0M71.47 296.06h0M72.32 296.06h0M73.17 296.05h0M74.01 296.05h0M74.86 296.04h0M75.71 296.04h0M76.55 296.03h0M77.40 296.03h0M78.25 296.02h0M79.09 296.02h0M79.94 296.01h0M80.79 296.01h0M81.64 296.00h0M82.48 296.00h0M83.33 295.99h0M84.18 295.99h0M85.02 295.99h0M85.87 295.98h0M86.72 295.98h0M87.56 295.97h0M88.41 295.97h0M89.26 295.97h0M90.10 295.96h0M90.95 295.96h0M91.80 295.95h0M92.65 295.95h0M93.49 295.95h0M94.34 295.94h0M95.19 295.94h0M96.03 295.93h0M96.88 295.93h0M97.73 295.93h0M98.57 295.92h0M99.42 295.92h0M100.27 295.92h0M101.11 295.91h0M101.96 295.91h0M102.81 295.91h0M103.66 295.90h0M104.50 295.90h0M105.35 295.90h0M106.20 295.89h0M107.04 295.89h0M107.89 295.89h0M108.74 295.88h0M109.58 295.88h0M110.43 295.88h0M111.28 295.87h0M112.12 295.87h0M112.97 295.87h0M113.82 295.86h0M114.66 295.86h0M115.51 295.86h0M116.36 295.86h0M117.21 295.85h0M118.05 295.85h0M118.90 295.85h0M119.75 295.84h0M120.59 295.84h0M121.44 295.84h0M122.29 295.84h0M123.13 295.83h0M123.98 295.83h0M124.83 295.83h0M125.67 295.83h0M126.52 295.82h0M127.37 295.82h0M128.22 295.82h0M129.06 295.82h0M129.91 295.81h0M130.76 295.81h0M131.60 295.81h0M132.45 295.81h0M133.30 295.81h0M134.14 295.80h0M134.99 295.80h0M135.84 295.80h0M136.68 295.80h0M137.53 295.79h0M138.38 295.79h0M139.23 295.79h0M140.07 295.79h0M140.92 295.79h0M141.77 295.78h0M142.61 295.78h0M143.46 295.78h0M144.31 295.78h0M145.15 295.78h0M146.00 295.78h0M146.85 295.77h0M147.69 295.77h0M148.54 295.77h0M149.39 295.77h0M150.23 295.77h0M151.08 295.77h0M151.93 295.76h0M152.78 295.76h0M153.62 295.76h0M154.47 295.76h0M155.32 295.76h0M156.16 295.76h0M157.01 295.75h0M157.86 295.75h0M158.70 295.75h0M159.55 295.75h0M160.40 295.75h0M161.24 295.75h0M162.09 295.75h0M162.94 295.75h0M163.79 295.74h0M164.63 295.74h0M165.48 295.74h0M166.33 295.74h0M167.17 295.74h0M168.02 295.74h0M168.87 295.74h0M169.71 295.74h0M170.56 295.74h0M171.41 295.73h0M172.25 295.73h0M173.10 295.73h0M173.95 295.73h0M174.80 295.73h0M175.64 295.73h0M176.49 295.73h0M177.34 295.73h0M178.18 295.73h0M179.03 295.73h0M179.88 295.72h0M180.72 295.72h0M181.57 295.72h0M182.42 295.72h0M183.26 295.72h0M184.11 295.72h0M184.96 295.72h0M185.80 295.72h0M186.65 295.72h0M187.50 295.72h0M188.35 295.72h0M189.19 295.72h0M190.04 295.72h0M190.89 295.72h0M191.73 295.71h0M192.58 295.71h0M193.43 295.71h0M194.27 295.71h0M195.12 295.71h0M195.97 295.71h0M196.81 295.71h0M197.66 295.71h0M198.51 295.71h0M199.36 295.71h0M200.20 295.71h0M201.05 295.71h0M201.90 295.71h0M202.74 295.71h0M203.59 295.71h0M204.44 295.71h0M205.28 295.71h0M206.13 295.71h0M206.98 295.71h0M207.82 295.71h0M208.67 295.71h0M209.52 295.71h0M210.37 295.71h0M211.21 295.70h0M212.06 295.70h0M212.91 295.70h0M213.75 295.70h0M214.60 295.70h0M215.45 295.70h0M216.29 295.70h0M217.14 295.70h0M217.99 295.70h0M218.83 295.70h0M219.68 295.70h0M220.53 295.70h0M221.37 295.70h0M222.22 295.70h0M223.07 295.70h0M223.92 295.70h0M224.76 295.70h0M225.61 295.70h0M226.46 295.70h0M227.30 295.70h0M228.15 295.70h0M229.00 295.70h0M229.84 295.70h0M230.69 295.70h0M231.54 295.70h0M232.38 295.70h0M233.23 295.70h0M234.08 295.70h0M234.93 295.70h0M235.77 295.70h0M236.62 295.70h0M237.47 295.70h0M238.31 295.70h0M239.16 295.70h0M240.01 295.70h0M240.85 295.70h0M241.70 295.70h0M242.55 295.70h0M243.39 295.70h0M244.24 295.70h0M245.09 295.70h0M245.94 295.70h0M246.78 295.70h0M247.63 295.70h0M248.48 295.70h0M249.32 295.70h0M250.17 295.70h0M251.02 295.70h0M251.86 295.70h0M252.71 295.70h0M253.56 295.70h0M254.40 295.70h0M255.25 295.70h0M256.10 295.70h0M256.94 295.70h0M257.79 295.70h0M258.64 295.71h0M259.49 295.71h0M260.33 295.71h0M261.18 295.72h0M262.03 295.72h0M262.87 295.73h0M263.72 295.73h0M264.57 295.74h0M265.41 295.75h0M266.26 295.76h0M267.11 295.76h0M267.95 295.77h0M268.80 295.78h0M269.65 295.79h0M270.50 295.80h0M271.34 295.81h0M272.19 295.83h0M273.04 295.84h0M273.88 295.85h0M274.73 295.86h0M275.58 295.88h0M276.42 295.89h0M277.27 295.90h0M278.12 295.92h0M278.96 295.93h0M279.81 295.95h0M280.66 295.96h0M281.51 295.98h0M282.35 296.00h0M283.20 296.01h0M284.05 296.03h0M284.89 296.05h0M285.74 296.06h0M286.59 296.08h0M287.43 296.10h0M288.28 296.12h0M289.13 296.14h0M289.97 296.16h0M290.82 296.18h0M291.67 296.20h0M292.51 296.22h0M293.36 296.24h0M294.21 296.26h0M295.06 296.28h0M295.90 296.30h0M296.75 296.32h0M297.60 296.34h0M298.44 296.36h0M299.29 296.38h0M300.14 296.40h0M300.98 296.43h0M301.83 296.45h0M302.68 296.48h0M303.52 296.51h0M304.37 296.55h0M305.22 296.58h0M306.07 296.62h0M306.91 296.66h0M307.76 296.70h0M308.61 296.75h0M309.45 296.79h0M310.30 296.84h0M311.15 296.88h0M311.99 296.93h0M312.84 296.98h0M313.69 297.03h0M314.53 297.08h0M315.38 297.13h0M316.23 297.18h0M317.07 297.23h0M317.92 297.28h0M318.77 297.33h0M319.62 297.38h0M320.46 297.43h0M321.31 297.48h0M322.16 297.53h0M323.00 297.57h0M323.85 297.63h0M324.70 297.68h0M325.54 297.73h0M326.39 297.78h0M327.24 297.84h0M328.08 297.89h0M328.93 297.95h0M329.78 298.01h0M330.63 298.06h0M331.47 298.13h0M332.32 298.19h0M333.17 298.25h0M334.01 298.32h0M334.86 298.39h0M335.71 298.46h0M336.55 298.54h0M337.40 298.62h0M338.25 298.70h0M339.09 298.79h0M339.94 298.89h0M340.79 299.00h0M341.64 299.12h0M342.48 299.24h0M343.33 299.38h0M344.18 299.52h0M345.02 299.66h0M345.87 299.81h0M346.72 299.95h0M347.56 300.10h0M348.41 300.25h0M349.26 300.41h0M350.10 300.57h0M350.95 300.73h0M351.80 300.90h0M352.64 301.06h0M353.49 301.21h0M354.34 301.36h0M355.19 301.51h0M356.03 301.65h0M356.88 301.80h0M357.73 301.94h0M358.57 302.09h0M359.42 302.23h0M360.27 302.36h0M361.11 302.49h0M361.96 302.62h0M362.81 302.74h0M363.65 302.86h0M364.50 302.96h0M365.35 303.07h0M366.20 303.18h0M367.04 303.28h0M367.89 303.38h0M368.74 303.48h0M369.58 303.57h0M370.43 303.65h0M371.28 303.73h0M372.12 303.80h0M372.97 303.87h0M373.82 303.92h0M374.66 303.97h0M375.51 304.02h0M376.36 304.07h0M377.21 304.12h0M378.05 304.17h0M378.90 304.21h0M379.75 304.26h0M380.59 304.30h0M381.44 304.34h0M382.29 304.38h0M383.13 304.42h0M383.98 304.45h0M384.83 304.49h0M385.67 304.52h0M386.52 304.55h0M387.37 304.57h0M388.21 304.60h0M389.06 304.62h0M389.91 304.64h0M390.76 304.66h0M391.60 304.68h0M392.45 304.69h0M393.30 304.70h0M394.14 304.71h0M394.99 304.72h0M395.84 304.73h0M396.68 304.74h0M397.53 304.75h0M398.38 304.76h0M399.22 304.77h0M400.07 304.77h0M400.92 304.78h0M401.77 304.79h0M402.61 304.79h0M403.46 304.79h0M404.31 304.80h0M405.15 304.80h0M406.00 304.80h0" fill="none" stroke="#000" stroke-width="3.46" stroke-linecap="round"/>
<path d="M50.30 307.20h0M51.15 307.21h0M51.99 307.21h0M52.84 307.22h0M53.69 307.22h0M54.53 307.23h0M55.38 307.24h0M56.23 307.24h0M57.08 307.25h0M57.92 307.25h0M58.77 307.26h0M59.62 307.27h0M60.46 307.27h0M61.31 307.28h0M62.16 307.28h0M63.00 307.29h0M63.85 307.30h0M64.70 307.30h0M65.54 307.31h0M66.39 307.31h0M67.24 307.32h0M68.08 307.32h0M68.93 307.33h0M69.78 307.34h0M70.63 307.34h0M71.47 307.35h0M72.32 307.35h0M73.17 307.36h0M74.01 307.36h0M74.86 307.37h0M75.71 307.38h0M76.55 307.38h0M77.40 307.39h0M78.25 307.39h0M79.09 307.40h0M79.94 307.40h0M80.79 307.41h0M81.64 307.41h0M82.48 307.42h0M83.33 307.42h0M84.18 307.43h0M85.02 307.44h0M85.87 307.44h0M86.72 307.45h0M87.56 307.45h0M88.41 307.46h0M89.26 307.46h0M90.10 307.47h0M90.95 307.47h0M91.80 307.48h0M92.65 307.48h0M93.49 307.49h0M94.34 307.49h0M95.19 307.50h0M96.03 307.50h0M96.88 307.51h0M97.73 307.51h0M98.57 307.52h0M99.42 307.52h0M100.27 307.53h0M101.11 307.53h0M101.96 307.54h0M102.81 307.54h0M103.66 307.55h0M104.50 307.55h0M105.35 307.56h0M106.20 307.56h0M107.04 307.57h0M107.89 307.57h0M108.74 307.57h0M109.58 307.58h0M110.43 307.58h0M111.28 307.59h0M112.12 307.59h0M112.97 307.60h0M113.82 307.60h0M114.66 307.61h0M115.51 307.61h0M116.36 307.62h0M117.21 307.62h0M118.05 307.63h0M118.90 307.63h0M119.75 307.63h0M120.59 307.64h0M121.44 307.64h0M122.29 307.65h0M123.13 307.65h0M123.98 307.66h0M124.83 307.66h0M125.67 307.66h0M126.52 307.67h0M127.37 307.67h0M128.22 307.68h0M129.06 307.68h0M129.91 307.68h0M130.76 307.69h0M131.60 307.69h0M132.45 307.70h0M133.30 307.70h0M134.14 307.70h0M134.99 307.71h0M135.84 307.71h0M136.68 307.72h0M137.53 307.72h0M138.38 307.72h0M139.23 307.73h0M140.07 307.73h0M140.92 307.74h0M141.77 307.74h0M142.61 307.74h0M143.46 307.75h0M144.31 307.75h0M145.15 307.75h0M146.00 307.76h0M146.85 307.76h0M147.69 307.77h0M148.54 307.77h0M149.39 307.77h0M150.23 307.78h0M151.08 307.78h0M151.93 307.78h0M152.78 307.79h0M153.62 307.79h0M154.47 307.79h0M155.32 307.80h0M156.16 307.80h0M157.01 307.80h0M157.86 307.81h0M158.70 307.81h0M159.55 307.81h0M160.40 307.82h0M161.24 307.82h0M162.09 307.82h0M162.94 307.83h0M163.79 307.83h0M164.63 307.83h0M165.48 307.83h0M166.33 307.84h0M167.17 307.84h0M168.02 307.84h0M168.87 307.85h0M169.71 307.85h0M170.56 307.85h0M171.41 307.86h0M172.25 307.86h0M173.10 307.86h0M173.95 307.86h0M174.80 307.87h0M175.64 307.87h0M176.49 307.87h0M177.34 307.87h0M178.18 307.88h0M179.03 307.88h0M179.88 307.88h0M180.72 307.89h0M181.57 307.89h0M182.42 307.89h0M183.26 307.89h0M184.11 307.90h0M184.96 307.90h0M185.80 307.90h0M186.65 307.90h0M187.50 307.90h0M188.35 307.91h0M189.19 307.91h0M190.04 307.91h0M190.89 307.91h0M191.73 307.92h0M192.58 307.92h0M193.43 307.92h0M194.27 307.92h0M195.12 307.92h0M195.97 307.93h0M196.81 307.93h0M197.66 307.93h0M198.51 307.93h0M199.36 307.93h0M200.20 307.94h0M201.05 307.94h0M201.90 307.94h0M202.74 307.94h0M203.59 307.94h0M204.44 307.95h0M205.28 307.95h0M206.13 307.95h0M206.98 307.95h0M207.82 307.95h0M208.67 307.95h0M209.52 307.96h0M210.37 307.96h0M211.21 307.96h0M212.06 307.96h0M212.91 307.96h0M213.75 307.96h0M214.60 307.97h0M215.45 307.97h0M216.29 307.97h0M217.14 307.97h0M217.99 307.97h0M218.83 307.97h0M219.68 307.97h0M220.53 307.97h0M221.37 307.98h0M222.22 307.98h0M223.07 307.98h0M223.92 307.98h0M224.76 307.98h0M225.61 307.98h0M226.46 307.98h0M227.30 307.98h0M228.15 307.98h0M229.00 307.99h0M229.84 307.99h0M230.69 307.99h0M231.54 307.99h0M232.38 307.99h0M233.23 307.99h0M234.08 307.99h0M234.93 307.99h0M235.77 307.99h0M236.62 307.99h0M237.47 307.99h0M238.31 307.99h0M239.16 307.99h0M240.01 308.00h0M240.85 308.00h0M241.70 308.00h0M242.55 308.00h0M243.39 308.00h0M244.24 308.00h0M245.09 308.00h0M245.94 308.00h0M246.78 308.00h0M247.63 308.00h0M248.48 308.00h0M249.32 308.00h0M250.17 308.00h0M251.02 308.00h0M251.86 308.00h0M252.71 308.00h0M253.56 308.00h0M254.40 308.00h0M255.25 308.00h0M256.10 308.00h0M256.94 308.00h0M257.79 308.00h0M258.64 308.00h0M259.49 308.00h0M260.33 308.00h0M261.18 308.00h0M262.03 308.00h0M262.87 308.00h0M263.72 308.00h0M264.57 308.00h0M265.41 308.00h0M266.26 308.00h0M267.11 308.00h0M267.95 308.00h0M268.80 308.00h0M269.65 308.00h0M270.50 308.00h0M271.34 308.00h0M272.19 308.00h0M273.04 308.00h0M273.88 308.00h0M274.73 308.00h0M275.58 308.00h0M276.42 308.00h0M277.27 308.00h0M278.12 308.00h0M278.96 308.00h0M279.81 308.00h0M280.66 308.00h0M281.51 308.00h0M282.35 308.00h0M283.20 308.00h0M284.05 308.00h0M284.89 308.00h0M285.74 308.00h0M286.59 308.00h0M287.43 308.00h0M288.28 308.00h0M289.13 308.00h0M289.97 308.00h0M290.82 308.01h0M291.67 308.01h0M292.51 308.03h0M293.36 308.04h0M294.21 308.05h0M295.06 308.07h0M295.90 308.09h0M296.75 308.11h0M297.60 308.13h0M298.44 308.15h0M299.29 308.18h0M300.14 308.20h0M300.98 308.24h0M301.83 308.28h0M302.68 308.33h0M303.52 308.39h0M304.37 308.46h0M305.22 308.53h0M306.07 308.61h0M306.91 308.69h0M307.76 308.78h0M308.61 308.86h0M309.45 308.95h0M310.30 309.03h0M311.15 309.12h0M311.99 309.22h0M312.84 309.33h0M313.69 309.44h0M314.53 309.55h0M315.38 309.67h0M316.23 309.79h0M317.07 309.91h0M317.92 310.03h0M318.77 310.14h0M319.62 310.25h0M320.46 310.36h0M321.31 310.46h0M322.16 310.57h0M323.00 310.68h0M323.85 310.78h0M324.70 310.89h0M325.54 310.99h0M326.39 311.10h0M327.24 311.20h0M328.08 311.29h0M328.93 311.39h0M329.78 311.48h0M330.63 311.56h0M331.47 311.65h0M332.32 311.73h0M333.17 311.81h0M334.01 311.88h0M334.86 311.96h0M335.71 312.03h0M336.55 312.11h0M337.40 312.18h0M338.25 312.25h0M339.09 312.32h0M339.94 312.40h0M340.79 312.47h0M341.64 312.54h0M342.48 312.61h0M343.33 312.67h0M344.18 312.74h0M345.02 312.81h0M345.87 312.87h0M346.72 312.94h0M347.56 313.01h0M348.41 313.07h0M349.26 313.14h0M350.10 313.21h0M350.95 313.28h0M351.80 313.35h0M352.64 313.43h0M353.49 313.51h0M354.34 313.59h0M355.19 313.67h0M356.03 313.76h0M356.88 313.84h0M357.73 313.93h0M358.57 314.01h0M359.42 314.09h0M360.27 314.17h0M361.11 314.25h0M361.96 314.33h0M362.81 314.40h0M363.65 314.47h0M364.50 314.53h0M365.35 314.59h0M366.20 314.64h0M367.04 314.69h0M367.89 314.73h0M368.74 314.76h0M369.58 314.79h0M370.43 314.81h0M371.28 314.83h0M372.12 314.84h0M372.97 314.86h0M373.82 314.88h0M374.66 314.89h0M375.51 314.91h0M376.36 314.92h0M377.21 314.94h0M378.05 314.95h0M378.90 314.97h0M379.75 314.98h0M380.59 314.99h0M381.44 315.01h0M382.29 315.02h0M383.13 315.03h0M383.98 315.04h0M384.83 315.06h0M385.67 315.07h0M386.52 315.08h0M387.37 315.09h0M388.21 315.10h0M389.06 315.11h0M389.91 315.12h0M390.76 315.12h0M391.60 315.13h0M392.45 315.14h0M393.30 315.15h0M394.14 315.15h0M394.99 315.16h0M395.84 315.17h0M396.68 315.17h0M397.53 315.18h0M398.38 315.18h0M399.22 315.18h0M400.07 315.19h0M400.92 315.19h0M401.77 315.19h0M402.61 315.20h0M403.46 315.20h0M404.31 315.20h0M405.15 315.20h0M406.00 315.20h0" fill="none" stroke="#000" stroke-width="3.46" stroke-linecap="round"/>
<path d="M50.30 316.50h0M51.15 316.50h0M51.99 316.51h0M52.84 316.51h0M53.69 316.52h0M54.53 316.52h0M55.38 316.53h0M56.23 316.53h0M57.08 316.54h0M57.92 316.54h0M58.77 316.54h0M59.62 316.55h0M60.46 316.55h0M61.31 316.56h0M62.16 316.56h0M63.00 316.57h0M63.85 316.57h0M64.70 316.58h0M65.54 316.58h0M66.39 316.59h0M67.24 316.59h0M68.08 316.59h0M68.93 316.60h0M69.78 316.60h0M70.63 316.61h0M71.47 316.61h0M72.32 316.62h0M73.17 316.62h0M74.01 316.63h0M74.86 316.63h0M75.71 316.64h0M76.55 316.64h0M77.40 316.65h0M78.25 316.65h0M79.09 316.66h0M79.94 316.66h0M80.79 316.67h0M81.64 316.67h0M82.48 316.68h0M83.33 316.68h0M84.18 316.69h0M85.02 316.69h0M85.87 316.70h0M86.72 316.70h0M87.56 316.71h0M88.41 316.71h0M89.26 316.72h0M90.10 316.72h0M90.95 316.73h0M91.80 316.73h0M92.65 316.74h0M93.49 316.74h0M94.34 316.75h0M95.19 316.75h0M96.03 316.76h0M96.88 316.76h0M97.73 316.77h0M98.57 316.77h0M99.42 316.78h0M100.27 316.78h0M101.11 316.79h0M101.96 316.79h0M102.81 316.80h0M103.66 316.80h0M104.50 316.81h0M105.35 316.81h0M106.20 316.82h0M107.04 316.83h0M107.89 316.83h0M108.74 316.84h0M109.58 316.84h0M110.43 316.85h0M111.28 316.85h0M112.12 316.86h0M112.97 316.86h0M113.82 316.87h0M114.66 316.87h0M115.51 316.88h0M116.36 316.88h0M117.21 316.89h0M118.05 316.90h0M118.90 316.90h0M119.75 316.91h0M120.59 316.91h0M121.44 316.92h0M122.29 316.92h0M123.13 316.93h0M123.98 316.93h0M124.83 316.94h0M125.67 316.94h0M126.52 316.95h0M127.37 316.96h0M128.22 316.96h0M129.06 316.97h0M129.91 316.97h0M130.76 316.98h0M131.60 316.98h0M132.45 316.99h0M133.30 317.00h0M134.14 317.00h0M134.99 317.01h0M135.84 317.01h0M136.68 317.02h0M137.53 317.02h0M138.38 317.03h0M139.23 317.04h0M140.07 317.04h0M140.92 317.05h0M141.77 317.05h0M142.61 317.06h0M143.46 317.06h0M144.31 317.07h0M145.15 317.08h0M146.00 317.08h0M146.85 317.09h0M147.69 317.09h0M148.54 317.10h0M149.39 317.11h0M150.23 317.11h0M151.08 317.12h0M151.93 317.12h0M152.78 317.13h0M153.62 317.13h0M154.47 317.14h0M155.32 317.15h0M156.16 317.15h0M157.01 317.16h0M157.86 317.16h0M158.70 317.17h0M159.55 317.18h0M160.40 317.18h0M161.24 317.19h0M162.09 317.19h0M162.94 317.20h0M163.79 317.21h0M164.63 317.21h0M165.48 317.22h0M166.33 317.22h0M167.17 317.23h0M168.02 317.24h0M168.87 317.24h0M169.71 317.25h0M170.56 317.26h0M171.41 317.26h0M172.25 317.27h0M173.10 317.27h0M173.95 317.28h0M174.80 317.29h0M175.64 317.29h0M176.49 317.30h0M177.34 317.30h0M178.18 317.31h0M179.03 317.32h0M179.88 317.32h0M180.72 317.33h0M181.57 317.34h0M182.42 317.34h0M183.26 317.35h0M184.11 317.35h0M184.96 317.36h0M185.80 317.37h0M186.65 317.37h0M187.50 317.38h0M188.35 317.39h0M189.19 317.39h0M190.04 317.40h0M190.89 317.40h0M191.73 317.41h0M192.58 317.42h0M193.43 317.42h0M194.27 317.43h0M195.12 317.44h0M195.97 317.44h0M196.81 317.45h0M197.66 317.46h0M198.51 317.46h0M199.36 317.47h0M200.20 317.47h0M201.05 317.48h0M201.90 317.49h0M202.74 317.49h0M203.59 317.50h0M204.44 317.51h0M205.28 317.51h0M206.13 317.52h0M206.98 317.53h0M207.82 317.53h0M208.67 317.54h0M209.52 317.55h0M210.37 317.55h0M211.21 317.56h0M212.06 317.56h0M212.91 317.57h0M213.75 317.58h0M214.60 317.58h0M215.45 317.59h0M216.29 317.60h0M217.14 317.60h0M217.99 317.61h0M218.83 317.62h0M219.68 317.62h0M220.53 317.63h0M221.37 317.64h0M222.22 317.64h0M223.07 317.65h0M223.92 317.66h0M224.76 317.66h0M225.61 317.67h0M226.46 317.68h0M227.30 317.68h0M228.15 317.69h0M229.00 317.70h0M229.84 317.70h0M230.69 317.71h0M231.54 317.72h0M232.38 317.72h0M233.23 317.73h0M234.08 317.73h0M234.93 317.74h0M235.77 317.75h0M236.62 317.75h0M237.47 317.76h0M238.31 317.77h0M239.16 317.77h0M240.01 317.78h0M240.85 317.79h0M241.70 317.79h0M242.55 317.80h0M243.39 317.81h0M244.24 317.81h0M245.09 317.82h0M245.94 317.83h0M246.78 317.83h0M247.63 317.84h0M248.48 317.85h0M249.32 317.85h0M250.17 317.86h0M251.02 317.87h0M251.86 317.88h0M252.71 317.88h0M253.56 317.89h0M254.40 317.90h0M255.25 317.90h0M256.10 317.91h0M256.94 317.91h0M257.79 317.92h0M258.64 317.93h0M259.49 317.93h0M260.33 317.94h0M261.18 317.94h0M262.03 317.95h0M262.87 317.96h0M263.72 317.96h0M264.57 317.97h0M265.41 317.97h0M266.26 317.98h0M267.11 317.98h0M267.95 317.99h0M268.80 317.99h0M269.65 318.00h0M270.50 318.01h0M271.34 318.01h0M272.19 318.02h0M273.04 318.02h0M273.88 318.03h0M274.73 318.04h0M275.58 318.04h0M276.42 318.05h0M277.27 318.06h0M278.12 318.07h0M278.96 318.07h0M279.81 318.08h0M280.66 318.09h0M281.51 318.10h0M282.35 318.11h0M283.20 318.12h0M284.05 318.13h0M284.89 318.14h0M285.74 318.15h0M286.59 318.16h0M287.43 318.18h0M288.28 318.19h0M289.13 318.20h0M289.97 318.22h0M290.82 318.24h0M291.67 318.26h0M292.51 318.28h0M293.36 318.31h0M294.21 318.33h0M295.06 318.37h0M295.90 318.40h0M296.75 318.44h0M297.60 318.47h0M298.44 318.52h0M299.29 318.56h0M300.14 318.61h0M300.98 318.67h0M301.83 318.74h0M302.68 318.83h0M303.52 318.93h0M304.37 319.04h0M305.22 319.15h0M306.07 319.27h0M306.91 319.39h0M307.76 319.51h0M308.61 319.62h0M309.45 319.73h0M310.30 319.84h0M311.15 319.94h0M311.99 320.04h0M312.84 320.14h0M313.69 320.25h0M314.53 320.35h0M315.38 320.45h0M316.23 320.56h0M317.07 320.66h0M317.92 320.76h0M318.77 320.86h0M319.62 320.96h0M320.46 321.05h0M321.31 321.15h0M322.16 321.25h0M323.00 321.35h0M323.85 321.45h0M324.70 321.54h0M325.54 321.64h0M326.39 321.73h0M327.24 321.82h0M328.08 321.91h0M328.93 322.00h0M329.78 322.08h0M330.63 322.16h0M331.47 322.24h0M332.32 322.32h0M333.17 322.40h0M334.01 322.47h0M334.86 322.55h0M335.71 322.62h0M336.55 322.69h0M337.40 322.75h0M338.25 322.81h0M339.09 322.86h0M339.94 322.90h0M340.79 322.93h0M341.64 322.97h0M342.48 323.00h0M343.33 323.03h0M344.18 323.06h0M345.02 323.09h0M345.87 323.12h0M346.72 323.14h0M347.56 323.16h0M348.41 323.18h0M349.26 323.19h0M350.10 323.20h0M350.95 323.21h0M351.80 323.22h0M352.64 323.23h0M353.49 323.24h0M354.34 323.25h0M355.19 323.25h0M356.03 323.26h0M356.88 323.27h0M357.73 323.28h0M358.57 323.29h0M359.42 323.29h0M360.27 323.30h0M361.11 323.31h0M361.96 323.32h0M362.81 323.32h0M363.65 323.33h0M364.50 323.34h0M365.35 323.34h0M366.20 323.35h0M367.04 323.36h0M367.89 323.36h0M368.74 323.37h0M369.58 323.37h0M370.43 323.38h0M371.28 323.39h0M372.12 323.39h0M372.97 323.40h0M373.82 323.40h0M374.66 323.41h0M375.51 323.41h0M376.36 323.42h0M377.21 323.42h0M378.05 323.43h0M378.90 323.43h0M379.75 323.43h0M380.59 323.44h0M381.44 323.44h0M382.29 323.45h0M383.13 323.45h0M383.98 323.45h0M384.83 323.46h0M385.67 323.46h0M386.52 323.46h0M387.37 323.47h0M388.21 323.47h0M389.06 323.47h0M389.91 323.48h0M390.76 323.48h0M391.60 323.48h0M392.45 323.48h0M393.30 323.48h0M394.14 323.49h0M394.99 323.49h0M395.84 323.49h0M396.68 323.49h0M397.53 323.49h0M398.38 323.49h0M399.22 323.50h0M400.07 323.50h0M400.92 323.50h0M401.77 323.50h0M402.61 323.50h0M403.46 323.50h0M404.31 323.50h0M405.15 323.50h0M406.00 323.50h0" fill="none" stroke="#000" stroke-width="3.46" stroke-linecap="round"/>
<path d="M50.30 323.60h0M51.15 323.60h0M51.99 323.60h0M52.84 323.60h0M53.69 323.60h0M54.53 323.60h0M55.38 323.60h0M56.23 323.60h0M57.08 323.60h0M57.92 323.60h0M58.77 323.60h0M59.62 323.60h0M60.46 323.60h0M61.31 323.60h0M62.16 323.60h0M63.00 323.60h0M63.85 323.61h0M64.70 323.61h0M65.54 323.61h0M66.39 323.61h0M67.24 323.61h0M68.08 323.61h0M68.93 323.61h0M69.78 323.61h0M70.63 323.61h0M71.47 323.61h0M72.32 323.61h0M73.17 323.61h0M74.01 323.62h0M74.86 323.62h0M75.71 323.62h0M76.55 323.62h0M77.40 323.62h0M78.25 323.62h0M79.09 323.62h0M79.94 323.62h0M80.79 323.63h0M81.64 323.63h0M82.48 323.63h0M83.33 323.63h0M84.18 323.63h0M85.02 323.63h0M85.87 323.63h0M86.72 323.64h0M87.56 323.64h0M88.41 323.64h0M89.26 323.64h0M90.10 323.64h0M90.95 323.65h0M91.80 323.65h0M92.65 323.65h0M93.49 323.65h0M94.34 323.65h0M95.19 323.66h0M96.03 323.66h0M96.88 323.66h0M97.73 323.66h0M98.57 323.66h0M99.42 323.67h0M100.27 323.67h0M101.11 323.67h0M101.96 323.67h0M102.81 323.68h0M103.66 323.68h0M104.50 323.68h0M105.35 323.68h0M106.20 323.68h0M107.04 323.69h0M107.89 323.69h0M108.74 323.69h0M109.58 323.70h0M110.43 323.70h0M111.28 323.70h0M112.12 323.70h0M112.97 323.71h0M113.82 323.71h0M114.66 323.71h0M115.51 323.71h0M116.36 323.72h0M117.21 323.72h0M118.05 323.72h0M118.90 323.73h0M119.75 323.73h0M120.59 323.73h0M121.44 323.74h0M122.29 323.74h0M123.13 323.74h0M123.98 323.75h0M124.83 323.75h0M125.67 323.75h0M126.52 323.76h0M127.37 323.76h0M128.22 323.76h0M129.06 323.77h0M129.91 323.77h0M130.76 323.77h0M131.60 323.78h0M132.45 323.78h0M133.30 323.78h0M134.14 323.79h0M134.99 323.79h0M135.84 323.79h0M136.68 323.80h0M137.53 323.80h0M138.38 323.81h0M139.23 323.81h0M140.07 323.81h0M140.92 323.82h0M141.77 323.82h0M142.61 323.82h0M143.46 323.83h0M144.31 323.83h0M145.15 323.84h0M146.00 323.84h0M146.85 323.84h0M147.69 323.85h0M148.54 323.85h0M149.39 323.86h0M150.23 323.86h0M151.08 323.87h0M151.93 323.87h0M152.78 323.87h0M153.62 323.88h0M154.47 323.88h0M155.32 323.89h0M156.16 323.89h0M157.01 323.90h0M157.86 323.90h0M158.70 323.91h0M159.55 323.91h0M160.40 323.91h0M161.24 323.92h0M162.09 323.92h0M162.94 323.93h0M163.79 323.93h0M164.63 323.94h0M165.48 323.94h0M166.33 323.95h0M167.17 323.95h0M168.02 323.96h0M168.87 323.96h0M169.71 323.97h0M170.56 323.97h0M171.41 323.98h0M172.25 323.98h0M173.10 323.99h0M173.95 323.99h0M174.80 324.00h0M175.64 324.00h0M176.49 324.01h0M177.34 324.01h0M178.18 324.02h0M179.03 324.02h0M179.88 324.03h0M180.72 324.03h0M181.57 324.04h0M182.42 324.04h0M183.26 324.05h0M184.11 324.06h0M184.96 324.06h0M185.80 324.07h0M186.65 324.07h0M187.50 324.08h0M188.35 324.08h0M189.19 324.09h0M190.04 324.09h0M190.89 324.10h0M191.73 324.11h0M192.58 324.11h0M193.43 324.12h0M194.27 324.12h0M195.12 324.13h0M195.97 324.13h0M196.81 324.14h0M197.66 324.15h0M198.51 324.15h0M199.36 324.16h0M200.20 324.16h0M201.05 324.17h0M201.90 324.18h0M202.74 324.18h0M203.59 324.19h0M204.44 324.19h0M205.28 324.20h0M206.13 324.21h0M206.98 324.21h0M207.82 324.22h0M208.67 324.22h0M209.52 324.23h0M210.37 324.24h0M211.21 324.24h0M212.06 324.25h0M212.91 324.26h0M213.75 324.26h0M214.60 324.27h0M215.45 324.27h0M216.29 324.28h0M217.14 324.29h0M217.99 324.29h0M218.83 324.30h0M219.68 324.31h0M220.53 324.31h0M221.37 324.32h0M222.22 324.33h0M223.07 324.33h0M223.92 324.34h0M224.76 324.35h0M225.61 324.35h0M226.46 324.36h0M227.30 324.37h0M228.15 324.37h0M229.00 324.38h0M229.84 324.39h0M230.69 324.39h0M231.54 324.40h0M232.38 324.41h0M233.23 324.41h0M234.08 324.42h0M234.93 324.43h0M235.77 324.44h0M236.62 324.44h0M237.47 324.45h0M238.31 324.46h0M239.16 324.46h0M240.01 324.47h0M240.85 324.48h0M241.70 324.49h0M242.55 324.49h0M243.39 324.50h0M244.24 324.51h0M245.09 324.51h0M245.94 324.52h0M246.78 324.53h0M247.63 324.54h0M248.48 324.54h0M249.32 324.55h0M250.17 324.56h0M251.02 324.56h0M251.86 324.57h0M252.71 324.58h0M253.56 324.59h0M254.40 324.59h0M255.25 324.60h0M256.10 324.61h0M256.94 324.62h0M257.79 324.63h0M258.64 324.63h0M259.49 324.64h0M260.33 324.65h0M261.18 324.66h0M262.03 324.67h0M262.87 324.68h0M263.72 324.69h0M264.57 324.70h0M265.41 324.71h0M266.26 324.73h0M267.11 324.74h0M267.95 324.75h0M268.80 324.76h0M269.65 324.78h0M270.50 324.79h0M271.34 324.80h0M272.19 324.82h0M273.04 324.83h0M273.88 324.85h0M274.73 324.86h0M275.58 324.88h0M276.42 324.89h0M277.27 324.91h0M278.12 324.93h0M278.96 324.95h0M279.81 324.97h0M280.66 324.98h0M281.51 325.00h0M282.35 325.02h0M283.20 325.04h0M284.05 325.07h0M284.89 325.09h0M285.74 325.11h0M286.59 325.13h0M287.43 325.16h0M288.28 325.18h0M289.13 325.20h0M289.97 325.23h0M290.82 325.26h0M291.67 325.30h0M292.51 325.34h0M293.36 325.38h0M294.21 325.42h0M295.06 325.47h0M295.90 325.52h0M296.75 325.58h0M297.60 325.63h0M298.44 325.69h0M299.29 325.75h0M300.14 325.81h0M300.98 325.88h0M301.83 325.96h0M302.68 326.04h0M303.52 326.14h0M304.37 326.24h0M305.22 326.34h0M306.07 326.44h0M306.91 326.54h0M307.76 326.65h0M308.61 326.75h0M309.45 326.84h0M310.30 326.93h0M311.15 327.02h0M311.99 327.11h0M312.84 327.20h0M313.69 327.29h0M314.53 327.37h0M315.38 327.46h0M316.23 327.54h0M317.07 327.63h0M317.92 327.71h0M318.77 327.79h0M319.62 327.87h0M320.46 327.94h0M321.31 328.02h0M322.16 328.09h0M323.00 328.17h0M323.85 328.25h0M324.70 328.32h0M325.54 328.39h0M326.39 328.46h0M327.24 328.52h0M328.08 328.58h0M328.93 328.64h0M329.78 328.69h0M330.63 328.73h0M331.47 328.78h0M332.32 328.83h0M333.17 328.87h0M334.01 328.92h0M334.86 328.96h0M335.71 329.00h0M336.55 329.03h0M337.40 329.06h0M338.25 329.08h0M339.09 329.09h0M339.94 329.10h0M340.79 329.10h0M341.64 329.10h0M342.48 329.09h0M343.33 329.08h0M344.18 329.07h0M345.02 329.06h0M345.87 329.05h0M346.72 329.04h0M347.56 329.03h0M348.41 329.02h0M349.26 329.01h0M350.10 329.00h0M350.95 328.99h0M351.80 328.98h0M352.64 328.97h0M353.49 328.96h0M354.34 328.96h0M355.19 328.95h0M356.03 328.94h0M356.88 328.93h0M357.73 328.92h0M358.57 328.91h0M359.42 328.90h0M360.27 328.89h0M361.11 328.89h0M361.96 328.88h0M362.81 328.87h0M363.65 328.86h0M364.50 328.85h0M365.35 328.84h0M366.20 328.83h0M367.04 328.82h0M367.89 328.81h0M368.74 328.81h0M369.58 328.80h0M370.43 328.79h0M371.28 328.78h0M372.12 328.77h0M372.97 328.76h0M373.82 328.75h0M374.66 328.74h0M375.51 328.73h0M376.36 328.72h0M377.21 328.72h0M378.05 328.71h0M378.90 328.70h0M379.75 328.69h0M380.59 328.68h0M381.44 328.67h0M382.29 328.66h0M383.13 328.65h0M383.98 328.64h0M384.83 328.63h0M385.67 328.62h0M386.52 328.62h0M387.37 328.61h0M388.21 328.60h0M389.06 328.59h0M389.91 328.58h0M390.76 328.57h0M391.60 328.56h0M392.45 328.55h0M393.30 328.54h0M394.14 328.53h0M394.99 328.52h0M395.84 328.51h0M396.68 328.50h0M397.53 328.49h0M398.38 328.49h0M399.22 328.48h0M400.07 328.47h0M400.92 328.46h0M401.77 328.45h0M402.61 328.44h0M403.46 328.43h0M404.31 328.42h0M405.15 328.41h0M406.00 328.40h0" fill="none" stroke="#000" stroke-width="3.46" stroke-linecap="round"/>
<path d="M50.30 328.30h0M51.15 328.30h0M51.99 328.30h0M52.84 328.31h0M53.69 328.31h0M54.53 328.31h0M55.38 328.31h0M56.23 328.32h0M57.08 328.32h0M57.92 328.32h0M58.77 328.32h0M59.62 328.33h0M60.46 328.33h0M61.31 328.33h0M62.16 328.33h0M63.00 328.34h0M63.85 328.34h0M64.70 328.34h0M65.54 328.34h0M66.39 328.35h0M67.24 328.35h0M68.08 328.35h0M68.93 328.35h0M69.78 328.36h0M70.63 328.36h0M71.47 328.36h0M72.32 328.37h0M73.17 328.37h0M74.01 328.37h0M74.86 328.37h0M75.71 328.38h0M76.55 328.38h0M77.40 328.38h0M78.25 328.39h0M79.09 328.39h0M79.94 328.39h0M80.79 328.39h0M81.64 328.40h0M82.48 328.40h0M83.33 328.40h0M84.18 328.41h0M85.02 328.41h0M85.87 328.41h0M86.72 328.42h0M87.56 328.42h0M88.41 328.42h0M89.26 328.43h0M90.10 328.43h0M90.95 328.43h0M91.80 328.44h0M92.65 328.44h0M93.49 328.44h0M94.34 328.44h0M95.19 328.45h0M96.03 328.45h0M96.88 328.45h0M97.73 328.46h0M98.57 328.46h0M99.42 328.46h0M100.27 328.47h0M101.11 328.47h0M101.96 328.48h0M102.81 328.48h0M103.66 328.48h0M104.50 328.49h0M105.35 328.49h0M106.20 328.49h0M107.04 328.50h0M107.89 328.50h0M108.74 328.50h0M109.58 328.51h0M110.43 328.51h0M111.28 328.51h0M112.12 328.52h0M112.97 328.52h0M113.82 328.52h0M114.66 328.53h0M115.51 328.53h0M116.36 328.54h0M117.21 328.54h0M118.05 328.54h0M118.90 328.55h0M119.75 328.55h0M120.59 328.55h0M121.44 328.56h0M122.29 328.56h0M123.13 328.57h0M123.98 328.57h0M124.83 328.57h0M125.67 328.58h0M126.52 328.58h0M127.37 328.59h0M128.22 328.59h0M129.06 328.59h0M129.91 328.60h0M130.76 328.60h0M131.60 328.61h0M132.45 328.61h0M133.30 328.61h0M134.14 328.62h0M134.99 328.62h0M135.84 328.63h0M136.68 328.63h0M137.53 328.63h0M138.38 328.64h0M139.23 328.64h0M140.07 328.65h0M140.92 328.65h0M141.77 328.65h0M142.61 328.66h0M143.46 328.66h0M144.31 328.67h0M145.15 328.67h0M146.00 328.68h0M146.85 328.68h0M147.69 328.68h0M148.54 328.69h0M149.39 328.69h0M150.23 328.70h0M151.08 328.70h0M151.93 328.71h0M152.78 328.71h0M153.62 328.71h0M154.47 328.72h0M155.32 328.72h0M156.16 328.73h0M157.01 328.73h0M157.86 328.74h0M158.70 328.74h0M159.55 328.74h0M160.40 328.75h0M161.24 328.75h0M162.09 328.76h0M162.94 328.76h0M163.79 328.77h0M164.63 328.77h0M165.48 328.78h0M166.33 328.78h0M167.17 328.78h0M168.02 328.79h0M168.87 328.79h0M169.71 328.80h0M170.56 328.80h0M171.41 328.81h0M172.25 328.81h0M173.10 328.82h0M173.95 328.82h0M174.80 328.83h0M175.64 328.83h0M176.49 328.84h0M177.34 328.84h0M178.18 328.84h0M179.03 328.85h0M179.88 328.85h0M180.72 328.86h0M181.57 328.86h0M182.42 328.87h0M183.26 328.87h0M184.11 328.88h0M184.96 328.88h0M185.80 328.89h0M186.65 328.89h0M187.50 328.90h0M188.35 328.90h0M189.19 328.91h0M190.04 328.91h0M190.89 328.92h0M191.73 328.92h0M192.58 328.93h0M193.43 328.93h0M194.27 328.94h0M195.12 328.94h0M195.97 328.94h0M196.81 328.95h0M197.66 328.95h0M198.51 328.96h0M199.36 328.96h0M200.20 328.97h0M201.05 328.97h0M201.90 328.98h0M202.74 328.98h0M203.59 328.99h0M204.44 328.99h0M205.28 329.00h0M206.13 329.00h0M206.98 329.01h0M207.82 329.01h0M208.67 329.02h0M209.52 329.02h0M210.37 329.03h0M211.21 329.03h0M212.06 329.04h0M212.91 329.04h0M213.75 329.05h0M214.60 329.05h0M215.45 329.06h0M216.29 329.06h0M217.14 329.07h0M217.99 329.07h0M218.83 329.08h0M219.68 329.08h0M220.53 329.09h0M221.37 329.09h0M222.22 329.10h0M223.07 329.10h0M223.92 329.11h0M224.76 329.11h0M225.61 329.12h0M226.46 329.12h0M227.30 329.13h0M228.15 329.14h0M229.00 329.14h0M229.84 329.15h0M230.69 329.15h0M231.54 329.16h0M232.38 329.16h0M233.23 329.17h0M234.08 329.17h0M234.93 329.18h0M235.77 329.18h0M236.62 329.19h0M237.47 329.19h0M238.31 329.20h0M239.16 329.20h0M240.01 329.21h0M240.85 329.21h0M241.70 329.22h0M242.55 329.22h0M243.39 329.23h0M244.24 329.23h0M245.09 329.24h0M245.94 329.24h0M246.78 329.25h0M247.63 329.25h0M248.48 329.26h0M249.32 329.26h0M250.17 329.27h0M251.02 329.28h0M251.86 329.28h0M252.71 329.29h0M253.56 329.29h0M254.40 329.30h0M255.25 329.30h0M256.10 329.31h0M256.94 329.31h0M257.79 329.32h0M258.64 329.32h0M259.49 329.33h0M260.33 329.33h0M261.18 329.34h0M262.03 329.34h0M262.87 329.35h0M263.72 329.35h0M264.57 329.36h0M265.41 329.36h0M266.26 329.37h0M267.11 329.37h0M267.95 329.38h0M268.80 329.39h0M269.65 329.39h0M270.50 329.40h0M271.34 329.40h0M272.19 329.41h0M273.04 329.42h0M273.88 329.42h0M274.73 329.43h0M275.58 329.44h0M276.42 329.44h0M277.27 329.45h0M278.12 329.46h0M278.96 329.47h0M279.81 329.48h0M280.66 329.49h0M281.51 329.49h0M282.35 329.50h0M283.20 329.51h0M284.05 329.52h0M284.89 329.53h0M285.74 329.55h0M286.59 329.56h0M287.43 329.58h0M288.28 329.61h0M289.13 329.68h0M289.97 329.79h0M290.82 329.96h0M291.67 330.30h0M292.51 330.93h0M293.36 331.84h0" fill="none" stroke="#000" stroke-width="3.46" stroke-linecap="round"/>
<polyline points="295.80,331.00 298.63,329.53 301.45,328.05 304.28,326.56 307.10,325.06 309.93,323.55 312.75,322.04 315.58,320.52 318.41,318.99 321.23,317.45 324.06,315.90 326.88,314.34 329.71,312.77 332.53,311.20 335.36,309.62 338.18,308.03 341.01,306.43 343.84,304.82 346.66,303.20 349.49,301.58 352.31,299.95 355.14,298.30 357.96,296.65 360.79,295.00 363.62,293.33 366.44,291.65 369.27,289.97 372.09,288.28 374.92,286.57 377.74,284.86 380.57,283.15 383.39,281.42 386.22,279.69 389.05,277.94 391.87,276.19 394.70,274.43 397.52,272.66 400.35,270.88 403.17,269.10 406.00,267.30" fill="none" stroke="#12a0f0" stroke-width="5.6" stroke-linecap="round" stroke-linejoin="round"/>
<rect x="282.2" y="367.6" width="112.80000000000001" height="73.79999999999995" fill="#fff"/>
<path d="M327.32 441.4v-5.3M327.32 367.6v5.3M372.44 441.4v-5.3M372.44 367.6v5.3M282.2 375.75h5.3M395.0 375.75h-5.3M282.2 405.75h5.3M395.0 405.75h-5.3M282.2 435.75h5.3M395.0 435.75h-5.3" stroke="#000" stroke-width="1" fill="none"/>
<svg x="282.2" y="367.6" width="112.80000000000001" height="73.79999999999995" viewBox="282.2 367.6 112.80000000000001 73.79999999999995" overflow="hidden">
<path d="M342.90 408.70h0M341.08 411.39h0M339.28 414.09h0M337.16 416.56h0M334.95 418.94h0M332.54 421.12h0M330.07 423.23h0M327.66 425.41h0M325.22 427.56h0M322.70 429.61h0M320.16 431.64h0M317.67 433.73h0M315.18 435.82h0M312.63 437.83h0M310.07 439.83h0M307.52 441.85h0M304.99 443.89h0" fill="none" stroke="#ff0000" stroke-width="2.5" stroke-linecap="round"/>
<polyline points="282.20,371.60 282.70,371.61 283.20,371.63 283.70,371.64 284.20,371.66 284.70,371.67 285.20,371.69 285.70,371.71 286.20,371.72 286.70,371.74 287.20,371.76 287.70,371.77 288.20,371.79 288.70,371.81 289.20,371.83 289.70,371.84 290.20,371.86 290.70,371.88 291.20,371.90 291.70,371.92 292.20,371.94 292.70,371.96 293.20,371.98 293.70,372.00 294.20,372.02 294.70,372.04 295.20,372.06 295.70,372.09 296.20,372.11 296.70,372.13 297.20,372.15 297.70,372.17 298.20,372.20 298.70,372.22 299.20,372.24 299.70,372.27 300.20,372.29 300.70,372.31 301.20,372.34 301.70,372.36 302.20,372.39 302.70,372.41 303.20,372.43 303.70,372.46 304.20,372.48 304.70,372.51 305.20,372.54 305.70,372.56 306.20,372.59 306.70,372.61 307.20,372.64 307.70,372.67 308.20,372.69 308.70,372.72 309.20,372.75 309.70,372.77 310.20,372.80 310.70,372.83 311.20,372.86 311.70,372.89 312.20,372.91 312.70,372.94 313.20,372.97 313.70,373.00 314.20,373.03 314.70,373.06 315.20,373.08 315.70,373.11 316.20,373.14 316.70,373.17 317.20,373.20 317.70,373.23 318.20,373.26 318.70,373.29 319.20,373.32 319.70,373.35 320.20,373.38 320.70,373.41 321.20,373.44 321.70,373.47 322.20,373.50 322.70,373.53 323.20,373.56 323.70,373.59 324.20,373.63 324.70,373.66 325.20,373.69 325.70,373.72 326.20,373.75 326.70,373.78 327.20,373.81 327.70,373.84 328.20,373.88 328.70,373.91 329.20,373.94 329.70,373.98 330.20,374.01 330.70,374.04 331.20,374.08 331.70,374.12 332.20,374.15 332.70,374.19 333.20,374.22 333.70,374.26 334.20,374.30 334.70,374.34 335.20,374.37 335.70,374.41 336.20,374.45 336.70,374.49 337.20,374.53 337.70,374.57 338.20,374.61 338.70,374.65 339.20,374.69 339.70,374.73 340.20,374.78 340.70,374.82 341.20,374.86 341.70,374.90 342.20,374.95 342.70,374.99 343.20,375.03 343.70,375.08 344.20,375.12 344.70,375.17 345.20,375.21 345.70,375.26 346.20,375.30 346.70,375.35 347.20,375.39 347.70,375.44 348.20,375.49 348.70,375.53 349.20,375.58 349.70,375.63 350.20,375.68 350.70,375.72 351.20,375.77 351.70,375.82 352.20,375.87 352.70,375.92 353.20,375.97 353.70,376.02 354.20,376.07 354.70,376.12 355.20,376.17 355.70,376.22 356.20,376.28 356.70,376.33 357.20,376.38 357.70,376.44 358.20,376.49 358.70,376.55 359.20,376.61 359.70,376.66 360.20,376.72 360.70,376.78 361.20,376.83 361.70,376.89 362.20,376.95 362.70,377.01 363.20,377.07 363.70,377.13 364.20,377.19 364.70,377.25 365.20,377.31 365.70,377.38 366.20,377.44 366.70,377.50 367.20,377.57 367.70,377.63 368.20,377.69 368.70,377.76 369.20,377.82 369.70,377.89 370.20,377.96 370.70,378.02 371.20,378.09 371.70,378.16 372.20,378.23 372.70,378.30 373.20,378.37 373.70,378.44 374.20,378.51 374.70,378.58 375.20,378.65 375.70,378.72 376.20,378.80 376.70,378.87 377.20,378.95 377.70,379.02 378.20,379.10 378.70,379.18 379.20,379.25 379.70,379.33 380.20,379.41 380.70,379.49 381.20,379.57 381.70,379.65 382.20,379.73 382.70,379.81 383.20,379.89 383.70,379.98 384.20,380.06 384.70,380.15 385.20,380.23 385.70,380.32 386.20,380.40 386.70,380.49 387.20,380.57 387.70,380.66 388.20,380.75 388.70,380.84 389.20,380.93 389.70,381.02 390.20,381.11 390.70,381.20 391.20,381.29 391.70,381.38 392.20,381.47 392.70,381.57 393.20,381.66 393.70,381.75 394.20,381.85 394.70,381.94 395.00,382.00" fill="none" stroke="#000" stroke-width="2.85" stroke-linecap="round" stroke-linejoin="round"/>
<polyline points="282.20,388.20 282.70,388.21 283.20,388.22 283.70,388.23 284.20,388.25 284.70,388.26 285.20,388.27 285.70,388.29 286.20,388.30 286.70,388.32 287.20,388.33 287.70,388.35 288.20,388.36 288.70,388.38 289.20,388.40 289.70,388.41 290.20,388.43 290.70,388.45 291.20,388.47 291.70,388.48 292.20,388.50 292.70,388.52 293.20,388.54 293.70,388.56 294.20,388.58 294.70,388.60 295.20,388.62 295.70,388.64 296.20,388.66 296.70,388.69 297.20,388.71 297.70,388.73 298.20,388.75 298.70,388.78 299.20,388.80 299.70,388.82 300.20,388.84 300.70,388.87 301.20,388.89 301.70,388.92 302.20,388.94 302.70,388.96 303.20,388.99 303.70,389.01 304.20,389.04 304.70,389.06 305.20,389.09 305.70,389.11 306.20,389.14 306.70,389.16 307.20,389.19 307.70,389.22 308.20,389.24 308.70,389.27 309.20,389.30 309.70,389.33 310.20,389.36 310.70,389.39 311.20,389.42 311.70,389.45 312.20,389.48 312.70,389.51 313.20,389.54 313.70,389.58 314.20,389.61 314.70,389.65 315.20,389.68 315.70,389.72 316.20,389.75 316.70,389.79 317.20,389.82 317.70,389.86 318.20,389.90 318.70,389.94 319.20,389.98 319.70,390.01 320.20,390.05 320.70,390.09 321.20,390.13 321.70,390.17 322.20,390.21 322.70,390.25 323.20,390.29 323.70,390.33 324.20,390.37 324.70,390.41 325.20,390.45 325.70,390.49 326.20,390.53 326.70,390.58 327.20,390.62 327.70,390.66 328.20,390.70 328.70,390.74 329.20,390.78 329.70,390.82 330.20,390.86 330.70,390.91 331.20,390.95 331.70,390.99 332.20,391.03 332.70,391.08 333.20,391.12 333.70,391.16 334.20,391.21 334.70,391.25 335.20,391.30 335.70,391.34 336.20,391.39 336.70,391.43 337.20,391.48 337.70,391.53 338.20,391.58 338.70,391.63 339.20,391.68 339.70,391.73 340.20,391.78 340.70,391.83 341.20,391.89 341.70,391.94 342.20,392.00 342.70,392.05 343.20,392.11 343.70,392.17 344.20,392.23 344.70,392.29 345.20,392.35 345.70,392.41 346.20,392.48 346.70,392.55 347.20,392.63 347.70,392.70 348.20,392.79 348.70,392.87 349.20,392.96 349.70,393.05 350.20,393.15 350.70,393.24 351.20,393.34 351.70,393.44 352.20,393.53 352.70,393.63 353.20,393.73 353.70,393.83 354.20,393.93 354.70,394.03 355.20,394.13 355.70,394.23 356.20,394.32 356.70,394.42 357.20,394.51 357.70,394.59 358.20,394.68 358.70,394.76 359.20,394.84 359.70,394.92 360.20,394.99 360.70,395.05 361.20,395.12 361.70,395.19 362.20,395.26 362.70,395.33 363.20,395.40 363.70,395.47 364.20,395.54 364.70,395.60 365.20,395.67 365.70,395.73 366.20,395.80 366.70,395.86 367.20,395.91 367.70,395.97 368.20,396.02 368.70,396.07 369.20,396.12 369.70,396.16 370.20,396.20 370.70,396.23 371.20,396.26 371.70,396.29 372.20,396.31 372.70,396.33 373.20,396.35 373.70,396.36 374.20,396.38 374.70,396.40 375.20,396.42 375.70,396.44 376.20,396.45 376.70,396.47 377.20,396.49 377.70,396.50 378.20,396.52 378.70,396.53 379.20,396.55 379.70,396.56 380.20,396.58 380.70,396.59 381.20,396.61 381.70,396.62 382.20,396.63 382.70,396.64 383.20,396.66 383.70,396.67 384.20,396.68 384.70,396.69 385.20,396.70 385.70,396.71 386.20,396.72 386.70,396.73 387.20,396.74 387.70,396.74 388.20,396.75 388.70,396.76 389.20,396.76 389.70,396.77 390.20,396.77 390.70,396.78 391.20,396.78 391.70,396.79 392.20,396.79 392.70,396.79 393.20,396.80 393.70,396.80 394.20,396.80 394.70,396.80 395.00,396.80" fill="none" stroke="#000" stroke-width="2.85" stroke-linecap="round" stroke-linejoin="round"/>
<polyline points="282.20,398.20 282.70,398.18 283.20,398.17 283.70,398.15 284.20,398.14 284.70,398.13 285.20,398.11 285.70,398.10 286.20,398.09 286.70,398.08 287.20,398.07 287.70,398.07 288.20,398.06 288.70,398.05 289.20,398.04 289.70,398.04 290.20,398.03 290.70,398.03 291.20,398.02 291.70,398.02 292.20,398.02 292.70,398.01 293.20,398.01 293.70,398.01 294.20,398.01 294.70,398.01 295.20,398.00 295.70,398.00 296.20,398.00 296.70,398.00 297.20,398.00 297.70,398.00 298.20,398.00 298.70,398.00 299.20,398.00 299.70,398.00 300.20,398.00 300.70,398.00 301.20,398.01 301.70,398.01 302.20,398.02 302.70,398.03 303.20,398.04 303.70,398.05 304.20,398.06 304.70,398.07 305.20,398.09 305.70,398.10 306.20,398.12 306.70,398.14 307.20,398.16 307.70,398.17 308.20,398.19 308.70,398.21 309.20,398.23 309.70,398.25 310.20,398.27 310.70,398.29 311.20,398.31 311.70,398.33 312.20,398.35 312.70,398.37 313.20,398.38 313.70,398.40 314.20,398.42 314.70,398.43 315.20,398.45 315.70,398.46 316.20,398.48 316.70,398.49 317.20,398.51 317.70,398.53 318.20,398.54 318.70,398.56 319.20,398.58 319.70,398.60 320.20,398.62 320.70,398.65 321.20,398.67 321.70,398.70 322.20,398.73 322.70,398.77 323.20,398.81 323.70,398.86 324.20,398.91 324.70,398.97 325.20,399.03 325.70,399.09 326.20,399.16 326.70,399.23 327.20,399.30 327.70,399.37 328.20,399.45 328.70,399.52 329.20,399.59 329.70,399.67 330.20,399.74 330.70,399.81 331.20,399.89 331.70,399.96 332.20,400.03 332.70,400.11 333.20,400.18 333.70,400.26 334.20,400.35 334.70,400.43 335.20,400.53 335.70,400.63 336.20,400.73 336.70,400.85 337.20,400.97 337.70,401.10 338.20,401.25 338.70,401.41 339.20,401.59 339.70,401.79 340.20,402.00 340.70,402.23 341.20,402.50 341.70,402.83 342.20,403.22 342.70,403.71 343.20,404.50 343.70,405.55 343.90,406.00" fill="none" stroke="#000" stroke-width="2.85" stroke-linecap="round" stroke-linejoin="round"/>
<line x1="282.2" y1="397.5" x2="395.0" y2="397.5" stroke="#b0b0b0" stroke-width="1.6" stroke-dasharray="4.3 5.5" stroke-dashoffset="3.3"/>
<line x1="344.6" y1="405.4" x2="395.0" y2="382" stroke="#12a0f0" stroke-width="5.5" stroke-linecap="round"/>
</svg>
<rect x="282.2" y="367.6" width="112.80000000000001" height="73.79999999999995" fill="none" stroke="#000" stroke-width="1.1"/>
<g opacity="0.999">
<text transform="translate(42.90 16.50) scale(1.1 1)" font-size="12.2" text-anchor="end" fill="#1a1a1a">1</text>
<text transform="translate(42.90 42.42) scale(1.1 1)" font-size="12.2" text-anchor="end" fill="#1a1a1a">0.8</text>
<text transform="translate(42.90 68.34) scale(1.1 1)" font-size="12.2" text-anchor="end" fill="#1a1a1a">0.6</text>
<text transform="translate(42.90 94.26) scale(1.1 1)" font-size="12.2" text-anchor="end" fill="#1a1a1a">0.4</text>
<text transform="translate(42.90 120.18) scale(1.1 1)" font-size="12.2" text-anchor="end" fill="#1a1a1a">0.2</text>
<text transform="translate(42.90 146.10) scale(1.1 1)" font-size="12.2" text-anchor="end" fill="#1a1a1a">0</text>
<text transform="translate(42.90 172.02) scale(1.1 1)" font-size="12.2" text-anchor="end" fill="#1a1a1a">-0.2</text>
<text transform="translate(42.90 197.94) scale(1.1 1)" font-size="12.2" text-anchor="end" fill="#1a1a1a">-0.4</text>
<text transform="translate(42.90 223.86) scale(1.1 1)" font-size="12.2" text-anchor="end" fill="#1a1a1a">-0.6</text>
<text transform="translate(42.90 249.78) scale(1.1 1)" font-size="12.2" text-anchor="end" fill="#1a1a1a">-0.8</text>
<text transform="translate(42.90 271.80) scale(1.1 1)" font-size="12.2" text-anchor="end" fill="#1a1a1a">1</text>
<text transform="translate(42.90 297.72) scale(1.1 1)" font-size="12.2" text-anchor="end" fill="#1a1a1a">0.8</text>
<text transform="translate(42.90 323.64) scale(1.1 1)" font-size="12.2" text-anchor="end" fill="#1a1a1a">0.6</text>
<text transform="translate(42.90 349.56) scale(1.1 1)" font-size="12.2" text-anchor="end" fill="#1a1a1a">0.4</text>
<text transform="translate(42.90 375.48) scale(1.1 1)" font-size="12.2" text-anchor="end" fill="#1a1a1a">0.2</text>
<text transform="translate(42.90 401.40) scale(1.1 1)" font-size="12.2" text-anchor="end" fill="#1a1a1a">0</text>
<text transform="translate(42.90 427.32) scale(1.1 1)" font-size="12.2" text-anchor="end" fill="#1a1a1a">-0.2</text>
<text transform="translate(42.90 453.24) scale(1.1 1)" font-size="12.2" text-anchor="end" fill="#1a1a1a">-0.4</text>
<text transform="translate(42.90 479.16) scale(1.1 1)" font-size="12.2" text-anchor="end" fill="#1a1a1a">-0.6</text>
<text transform="translate(42.90 505.08) scale(1.1 1)" font-size="12.2" text-anchor="end" fill="#1a1a1a">-0.8</text>
<text transform="translate(69.04 518.60) scale(1.1 1)" font-size="12.2" text-anchor="middle" fill="#1a1a1a">1</text>
<text transform="translate(111.38 518.60) scale(1.1 1)" font-size="12.2" text-anchor="middle" fill="#1a1a1a">1.5</text>
<text transform="translate(153.73 518.60) scale(1.1 1)" font-size="12.2" text-anchor="middle" fill="#1a1a1a">2</text>
<text transform="translate(196.07 518.60) scale(1.1 1)" font-size="12.2" text-anchor="middle" fill="#1a1a1a">2.5</text>
<text transform="translate(238.42 518.60) scale(1.1 1)" font-size="12.2" text-anchor="middle" fill="#1a1a1a">3</text>
<text transform="translate(280.76 518.60) scale(1.1 1)" font-size="12.2" text-anchor="middle" fill="#1a1a1a">3.5</text>
<text transform="translate(323.11 518.60) scale(1.1 1)" font-size="12.2" text-anchor="middle" fill="#1a1a1a">4</text>
<text transform="translate(365.45 518.60) scale(1.1 1)" font-size="12.2" text-anchor="middle" fill="#1a1a1a">4.5</text>
<text transform="translate(407.80 518.60) scale(1.1 1)" font-size="12.2" text-anchor="middle" fill="#1a1a1a">5</text>
<text transform="translate(274.80 380.35) scale(1.1 1)" font-size="12.2" text-anchor="end" fill="#1a1a1a">0.6</text>
<text transform="translate(274.80 410.35) scale(1.1 1)" font-size="12.2" text-anchor="end" fill="#1a1a1a">0.5</text>
<text transform="translate(274.80 440.35) scale(1.1 1)" font-size="12.2" text-anchor="end" fill="#1a1a1a">0.4</text>
<text transform="translate(284.20 458.80) scale(1.1 1)" font-size="12.2" text-anchor="middle" fill="#1a1a1a">3.4</text>
<text transform="translate(329.32 458.80) scale(1.1 1)" font-size="12.2" text-anchor="middle" fill="#1a1a1a">3.6</text>
<text transform="translate(374.44 458.80) scale(1.1 1)" font-size="12.2" text-anchor="middle" fill="#1a1a1a">3.8</text>
<text transform="translate(13.8 128.65) rotate(-90)" font-size="14.3" text-anchor="middle" fill="#1a1a1a" textLength="60.3" lengthAdjust="spacingAndGlyphs">ħRe(ω)/μ</text>
<text transform="translate(13.8 383.95000000000005) rotate(-90)" font-size="14.3" text-anchor="middle" fill="#1a1a1a" textLength="60.3" lengthAdjust="spacingAndGlyphs">ħRe(ω)/μ</text>
<text x="228.2" y="538.2" font-size="14.3" text-anchor="middle" fill="#1a1a1a" textLength="53.5" lengthAdjust="spacingAndGlyphs">A<tspan font-size="11.5" dy="3.2">x</tspan><tspan dy="-3.2">/(Mc</tspan><tspan font-size="11.5" dy="3.2">s</tspan><tspan dy="-3.2">)</tspan></text>
</g>
</svg></body></html>
